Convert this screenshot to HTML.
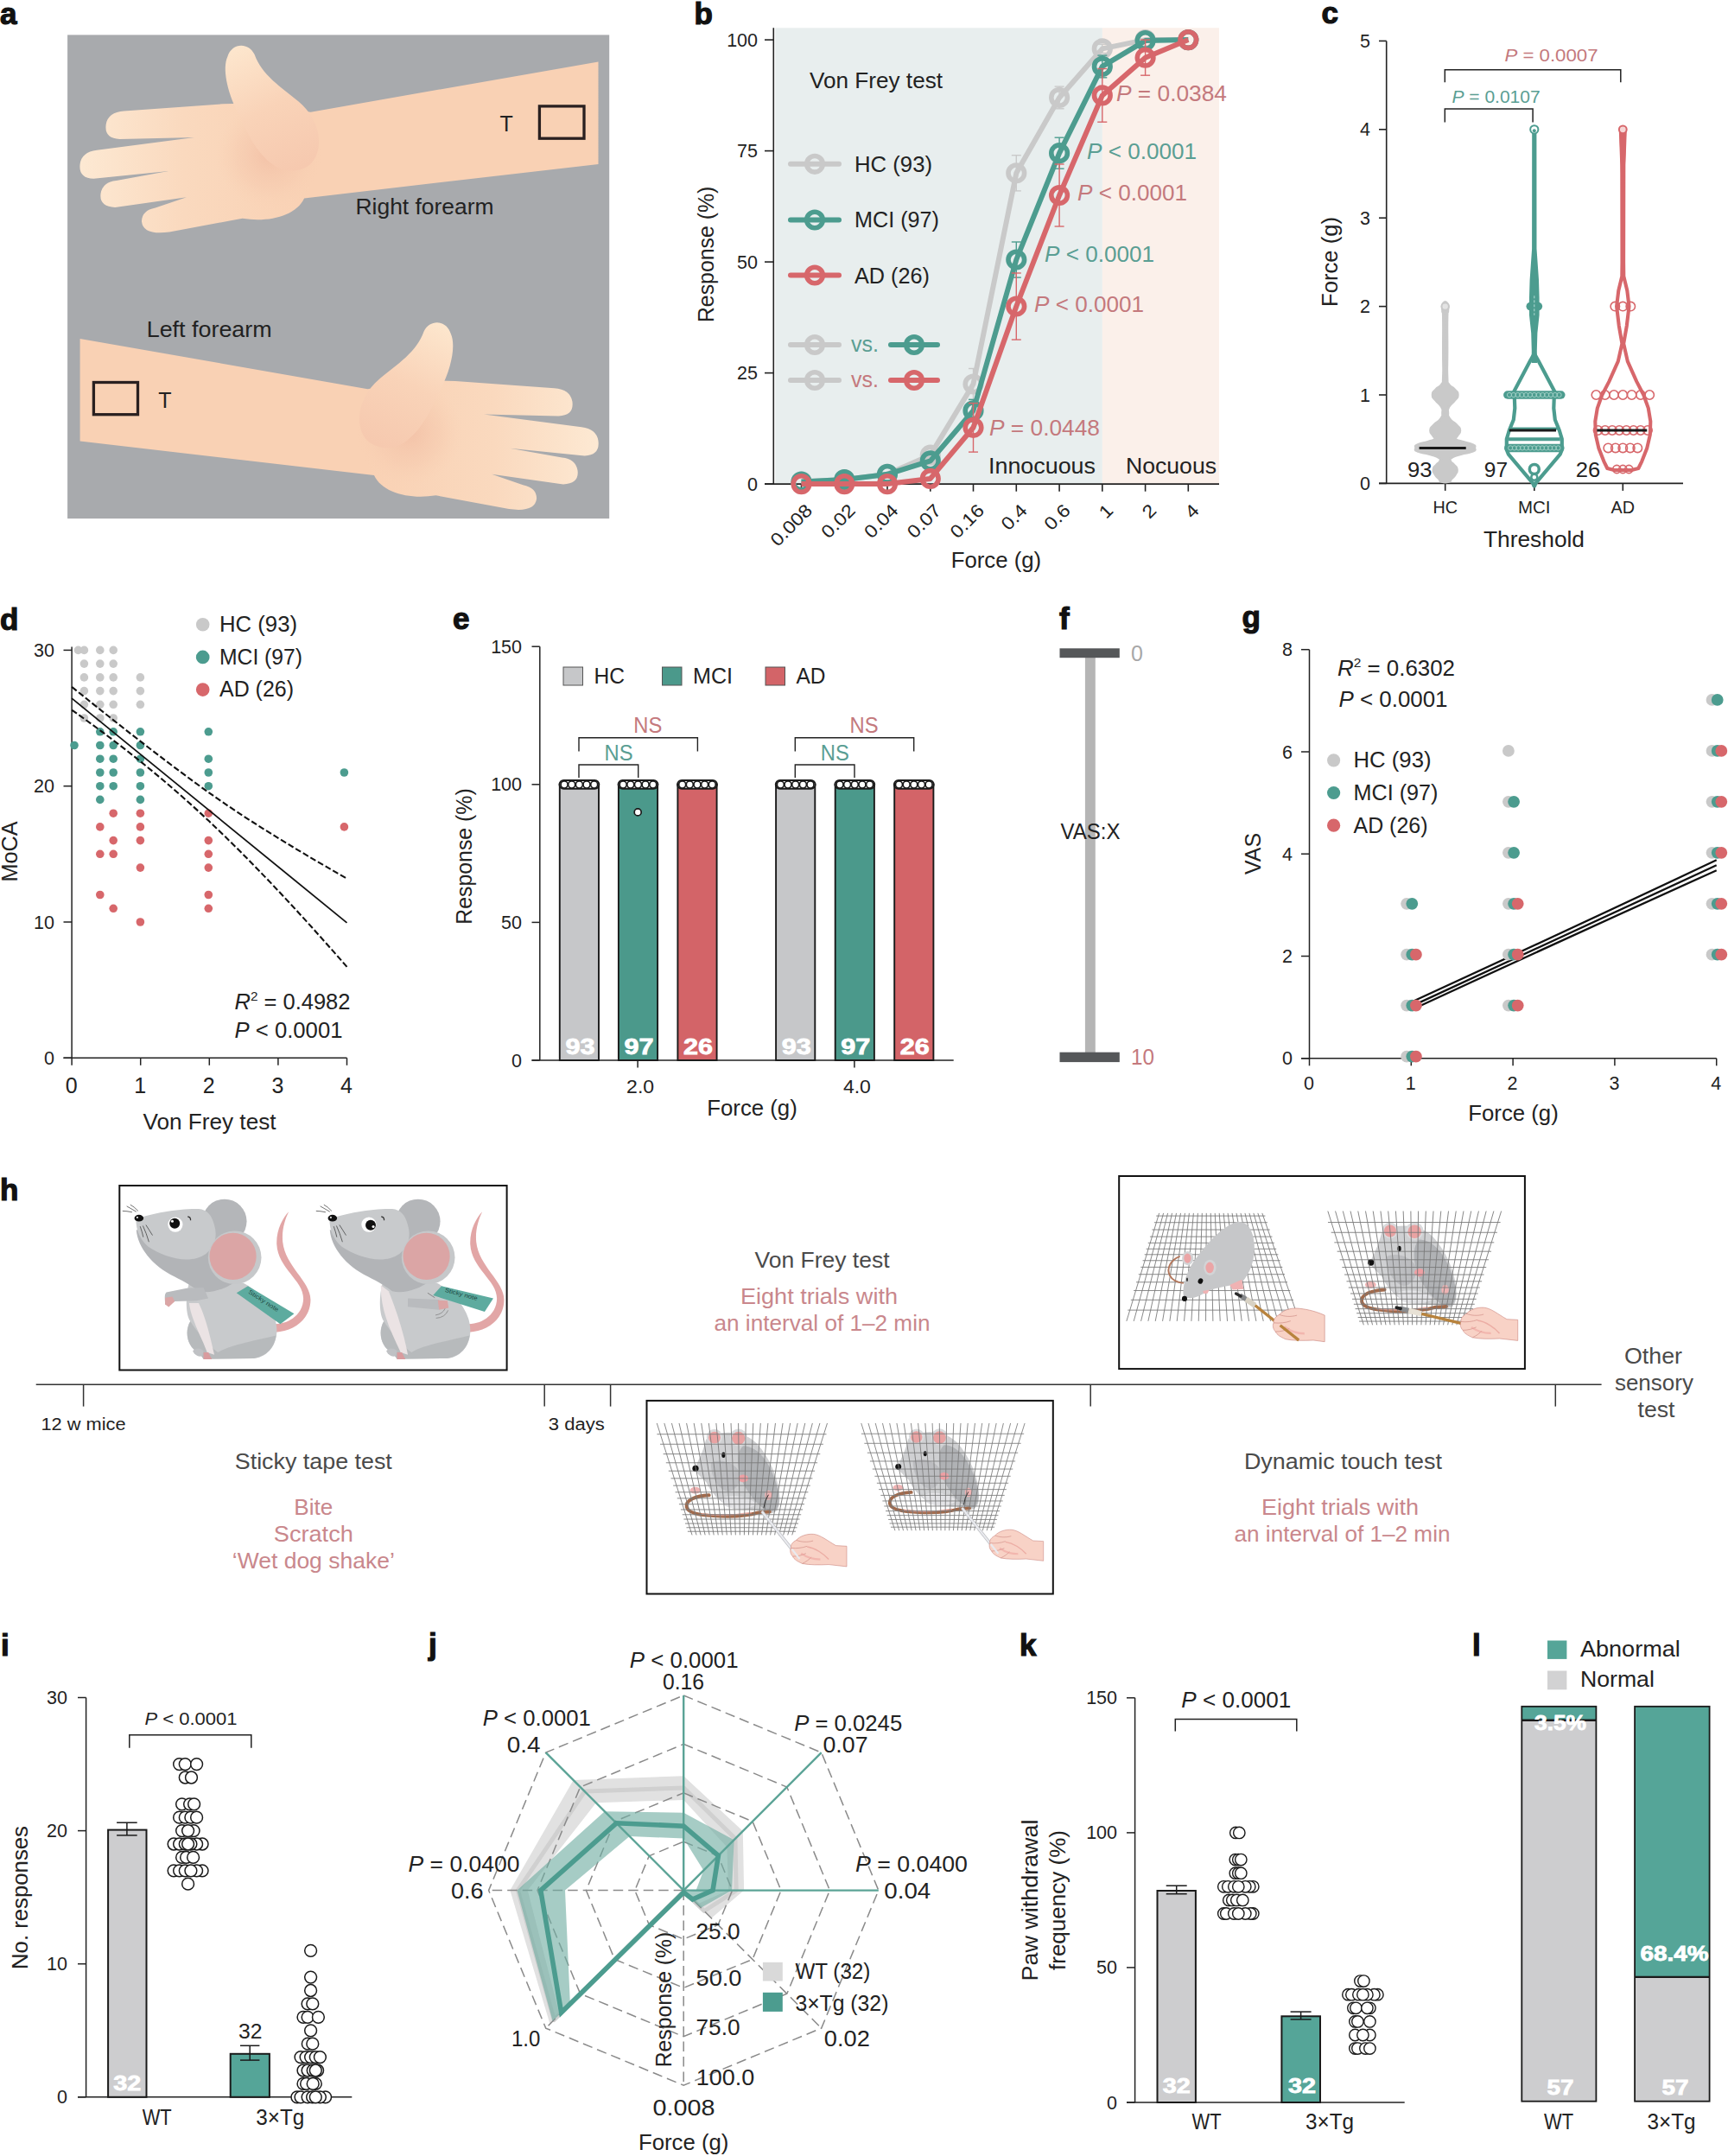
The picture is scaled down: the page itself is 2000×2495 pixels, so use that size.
<!DOCTYPE html><html><head><meta charset="utf-8"><title>Figure</title>
<style>html,body{margin:0;padding:0;background:#fff}svg{display:block}text{font-family:"Liberation Sans",sans-serif}</style></head><body>
<svg width="2000" height="2495" viewBox="0 0 2000 2495">
<rect width="2000" height="2495" fill="#fff"/>
<!-- panel_a -->
<text x="0.0" y="27.8" font-size="35" fill="#111" font-weight="bold" stroke="#111" stroke-width="1.2">a</text>
<defs><linearGradient id="skA" gradientUnits="userSpaceOnUse" x1="92" y1="0" x2="360" y2="0"><stop offset="0" stop-color="#fde9d3"/><stop offset="0.45" stop-color="#fad9be"/><stop offset="1" stop-color="#f9d1b4"/></linearGradient><radialGradient id="skSh" gradientUnits="userSpaceOnUse" cx="312" cy="180" r="62"><stop offset="0" stop-color="#f2bfa5" stop-opacity="0.85"/><stop offset="0.6" stop-color="#f5c8ad" stop-opacity="0.45"/><stop offset="1" stop-color="#f9d1b4" stop-opacity="0"/></radialGradient><linearGradient id="skT" gradientUnits="userSpaceOnUse" x1="275" y1="55" x2="345" y2="195"><stop offset="0" stop-color="#fde6cd"/><stop offset="0.5" stop-color="#f9d3b8"/><stop offset="1" stop-color="#f6c9af"/></linearGradient><clipPath id="armclip"><path d="M692.5,71.4 L692.5,189.9 L352.1,229.4 C342.7,250.0 310.7,257.6 280.6,252.7 L196.0,268.5 Q165.9,272.6 164.0,256.4 Q164.0,243.7 179.8,240.6 L215.9,228.2 L133.2,239.9 Q114.4,239.1 116.6,223.7 Q118.9,210.6 134.7,209.0 L194.9,198.1 L108.4,206.8 Q90.7,206.0 92.6,189.9 Q94.4,175.9 112.1,173.7 L225.0,159.0 L138.5,160.9 Q120.4,160.1 122.7,144.0 Q124.9,130.1 143.7,128.6 L258.1,120.3 L291.9,119.5 L359.6,129.7 Z"/></clipPath></defs>
<rect x="78.1" y="40.4" width="627.1" height="559.7" fill="#a8aaad"/>
<g><path d="M692.5,71.4 L692.5,189.9 L352.1,229.4 C342.7,250.0 310.7,257.6 280.6,252.7 L196.0,268.5 Q165.9,272.6 164.0,256.4 Q164.0,243.7 179.8,240.6 L215.9,228.2 L133.2,239.9 Q114.4,239.1 116.6,223.7 Q118.9,210.6 134.7,209.0 L194.9,198.1 L108.4,206.8 Q90.7,206.0 92.6,189.9 Q94.4,175.9 112.1,173.7 L225.0,159.0 L138.5,160.9 Q120.4,160.1 122.7,144.0 Q124.9,130.1 143.7,128.6 L258.1,120.3 L291.9,119.5 L359.6,129.7 Z" fill="url(#skA)"/><circle cx="312" cy="180" r="62" fill="url(#skSh)" clip-path="url(#armclip)"/><path d="M275.0,129.7 C262.6,105.2 257.3,78.9 263.3,65.7 C267.9,49.6 287.4,48.1 294.6,63.1 C302.5,86.4 325.8,101.5 345.3,117.3 C371.7,139.1 375.4,172.9 360.4,188.7 C349.1,200.0 329.5,200.0 317.5,191.7 C295.7,176.7 285.2,151.1 275.0,129.7 Z" fill="url(#skT)"/></g>
<g transform="translate(785.1,320.6) scale(-1,1)"><path d="M692.5,71.4 L692.5,189.9 L352.1,229.4 C342.7,250.0 310.7,257.6 280.6,252.7 L196.0,268.5 Q165.9,272.6 164.0,256.4 Q164.0,243.7 179.8,240.6 L215.9,228.2 L133.2,239.9 Q114.4,239.1 116.6,223.7 Q118.9,210.6 134.7,209.0 L194.9,198.1 L108.4,206.8 Q90.7,206.0 92.6,189.9 Q94.4,175.9 112.1,173.7 L225.0,159.0 L138.5,160.9 Q120.4,160.1 122.7,144.0 Q124.9,130.1 143.7,128.6 L258.1,120.3 L291.9,119.5 L359.6,129.7 Z" fill="url(#skA)"/><circle cx="312" cy="180" r="62" fill="url(#skSh)" clip-path="url(#armclip)"/><path d="M275.0,129.7 C262.6,105.2 257.3,78.9 263.3,65.7 C267.9,49.6 287.4,48.1 294.6,63.1 C302.5,86.4 325.8,101.5 345.3,117.3 C371.7,139.1 375.4,172.9 360.4,188.7 C349.1,200.0 329.5,200.0 317.5,191.7 C295.7,176.7 285.2,151.1 275.0,129.7 Z" fill="url(#skT)"/></g>
<rect x="624.4" y="122.9" width="51.6" height="37.3" fill="none" stroke="#2a2020" stroke-width="3.3"/>
<rect x="108.4" y="442.5" width="51.1" height="37.2" fill="none" stroke="#2a2020" stroke-width="3.3"/>
<text x="586.2" y="152.2" font-size="25" text-anchor="middle" fill="#222222">T</text>
<text x="191.0" y="471.8" font-size="25" text-anchor="middle" fill="#222222">T</text>
<text x="411.5" y="248.2" font-size="25" fill="#222222" textLength="160.0" lengthAdjust="spacingAndGlyphs">Right forearm</text>
<text x="169.7" y="390.2" font-size="25" fill="#222222" textLength="145.0" lengthAdjust="spacingAndGlyphs">Left forearm</text>
<!-- panel_b -->
<text x="803.5" y="27.5" font-size="35" fill="#111" font-weight="bold" stroke="#111" stroke-width="1.2">b</text>
<rect x="897.3" y="32.3" width="378.5" height="527.8" fill="#e8eeee"/>
<rect x="1275.8" y="32.3" width="135.2" height="527.8" fill="#fbf0ea"/>
<line x1="895.3" y1="32.3" x2="895.3" y2="560.1" stroke="#222" stroke-width="1.6"/>
<line x1="885.0" y1="560.1" x2="1411.0" y2="560.1" stroke="#222" stroke-width="1.6"/>
<line x1="885.0" y1="560.1" x2="895.3" y2="560.1" stroke="#222" stroke-width="1.6"/>
<text x="877.0" y="567.6" font-size="21.5" text-anchor="end" fill="#222222">0</text>
<line x1="885.0" y1="431.6" x2="895.3" y2="431.6" stroke="#222" stroke-width="1.6"/>
<text x="877.0" y="439.1" font-size="21.5" text-anchor="end" fill="#222222">25</text>
<line x1="885.0" y1="303.1" x2="895.3" y2="303.1" stroke="#222" stroke-width="1.6"/>
<text x="877.0" y="310.6" font-size="21.5" text-anchor="end" fill="#222222">50</text>
<line x1="885.0" y1="174.6" x2="895.3" y2="174.6" stroke="#222" stroke-width="1.6"/>
<text x="877.0" y="182.1" font-size="21.5" text-anchor="end" fill="#222222">75</text>
<line x1="885.0" y1="46.1" x2="895.3" y2="46.1" stroke="#222" stroke-width="1.6"/>
<text x="877.0" y="53.6" font-size="21.5" text-anchor="end" fill="#222222">100</text>
<line x1="927.5" y1="560.1" x2="927.5" y2="568.7" stroke="#222" stroke-width="1.6"/>
<text x="941.5" y="592.1" font-size="21" text-anchor="end" fill="#222222" transform="rotate(-45 941.5 592.1)" textLength="58.5" lengthAdjust="spacingAndGlyphs">0.008</text>
<line x1="977.3" y1="560.1" x2="977.3" y2="568.7" stroke="#222" stroke-width="1.6"/>
<text x="991.3" y="592.1" font-size="21" text-anchor="end" fill="#222222" transform="rotate(-45 991.3 592.1)" textLength="45.5" lengthAdjust="spacingAndGlyphs">0.02</text>
<line x1="1027.0" y1="560.1" x2="1027.0" y2="568.7" stroke="#222" stroke-width="1.6"/>
<text x="1041.0" y="592.1" font-size="21" text-anchor="end" fill="#222222" transform="rotate(-45 1041.0 592.1)" textLength="45.5" lengthAdjust="spacingAndGlyphs">0.04</text>
<line x1="1076.8" y1="560.1" x2="1076.8" y2="568.7" stroke="#222" stroke-width="1.6"/>
<text x="1090.8" y="592.1" font-size="21" text-anchor="end" fill="#222222" transform="rotate(-45 1090.8 592.1)" textLength="45.5" lengthAdjust="spacingAndGlyphs">0.07</text>
<line x1="1126.5" y1="560.1" x2="1126.5" y2="568.7" stroke="#222" stroke-width="1.6"/>
<text x="1140.5" y="592.1" font-size="21" text-anchor="end" fill="#222222" transform="rotate(-45 1140.5 592.1)" textLength="45.5" lengthAdjust="spacingAndGlyphs">0.16</text>
<line x1="1176.3" y1="560.1" x2="1176.3" y2="568.7" stroke="#222" stroke-width="1.6"/>
<text x="1190.3" y="592.1" font-size="21" text-anchor="end" fill="#222222" transform="rotate(-45 1190.3 592.1)" textLength="32.5" lengthAdjust="spacingAndGlyphs">0.4</text>
<line x1="1226.1" y1="560.1" x2="1226.1" y2="568.7" stroke="#222" stroke-width="1.6"/>
<text x="1240.1" y="592.1" font-size="21" text-anchor="end" fill="#222222" transform="rotate(-45 1240.1 592.1)" textLength="32.5" lengthAdjust="spacingAndGlyphs">0.6</text>
<line x1="1275.8" y1="560.1" x2="1275.8" y2="568.7" stroke="#222" stroke-width="1.6"/>
<text x="1289.8" y="592.1" font-size="21" text-anchor="end" fill="#222222" transform="rotate(-45 1289.8 592.1)" textLength="13.0" lengthAdjust="spacingAndGlyphs">1</text>
<line x1="1325.6" y1="560.1" x2="1325.6" y2="568.7" stroke="#222" stroke-width="1.6"/>
<text x="1339.6" y="592.1" font-size="21" text-anchor="end" fill="#222222" transform="rotate(-45 1339.6 592.1)" textLength="13.0" lengthAdjust="spacingAndGlyphs">2</text>
<line x1="1375.3" y1="560.1" x2="1375.3" y2="568.7" stroke="#222" stroke-width="1.6"/>
<text x="1389.3" y="592.1" font-size="21" text-anchor="end" fill="#222222" transform="rotate(-45 1389.3 592.1)" textLength="13.0" lengthAdjust="spacingAndGlyphs">4</text>
<text x="1152.9" y="657.0" font-size="25" text-anchor="middle" fill="#222222" textLength="104.5" lengthAdjust="spacingAndGlyphs">Force (g)</text>
<text x="826.0" y="294.4" font-size="25" text-anchor="middle" fill="#222222" transform="rotate(-90 826.0 294.4)" textLength="157.4" lengthAdjust="spacingAndGlyphs">Response (%)</text>
<line x1="1126.5" y1="426.5" x2="1126.5" y2="462.4" stroke="#c9c9c9" stroke-width="1.4"/>
<line x1="1121.0" y1="426.5" x2="1132.0" y2="426.5" stroke="#c9c9c9" stroke-width="1.4"/>
<line x1="1121.0" y1="462.4" x2="1132.0" y2="462.4" stroke="#c9c9c9" stroke-width="1.4"/>
<line x1="1176.3" y1="179.7" x2="1176.3" y2="220.9" stroke="#c9c9c9" stroke-width="1.4"/>
<line x1="1170.8" y1="179.7" x2="1181.8" y2="179.7" stroke="#c9c9c9" stroke-width="1.4"/>
<line x1="1170.8" y1="220.9" x2="1181.8" y2="220.9" stroke="#c9c9c9" stroke-width="1.4"/>
<line x1="1226.1" y1="100.1" x2="1226.1" y2="125.8" stroke="#c9c9c9" stroke-width="1.4"/>
<line x1="1220.6" y1="100.1" x2="1231.6" y2="100.1" stroke="#c9c9c9" stroke-width="1.4"/>
<line x1="1220.6" y1="125.8" x2="1231.6" y2="125.8" stroke="#c9c9c9" stroke-width="1.4"/>
<line x1="1275.8" y1="51.2" x2="1275.8" y2="61.5" stroke="#c9c9c9" stroke-width="1.4"/>
<line x1="1270.3" y1="51.2" x2="1281.3" y2="51.2" stroke="#c9c9c9" stroke-width="1.4"/>
<line x1="1270.3" y1="61.5" x2="1281.3" y2="61.5" stroke="#c9c9c9" stroke-width="1.4"/>
<polyline points="927.5,557.5 977.3,555.0 1027.0,548.8 1076.8,526.7 1126.5,444.5 1176.3,200.3 1226.1,112.9 1275.8,56.4 1325.6,46.1 1375.3,46.1" fill="none" stroke="#c9c9c9" stroke-width="6" stroke-linejoin="round"/>
<circle cx="927.5" cy="557.5" r="9.3" fill="none" stroke="#c9c9c9" stroke-width="5.6"/>
<circle cx="977.3" cy="555.0" r="9.3" fill="none" stroke="#c9c9c9" stroke-width="5.6"/>
<circle cx="1027.0" cy="548.8" r="9.3" fill="none" stroke="#c9c9c9" stroke-width="5.6"/>
<circle cx="1076.8" cy="526.7" r="9.3" fill="none" stroke="#c9c9c9" stroke-width="5.6"/>
<circle cx="1126.5" cy="444.5" r="9.3" fill="none" stroke="#c9c9c9" stroke-width="5.6"/>
<circle cx="1176.3" cy="200.3" r="9.3" fill="none" stroke="#c9c9c9" stroke-width="5.6"/>
<circle cx="1226.1" cy="112.9" r="9.3" fill="none" stroke="#c9c9c9" stroke-width="5.6"/>
<circle cx="1275.8" cy="56.4" r="9.3" fill="none" stroke="#c9c9c9" stroke-width="5.6"/>
<circle cx="1325.6" cy="46.1" r="9.3" fill="none" stroke="#c9c9c9" stroke-width="5.6"/>
<circle cx="1375.3" cy="46.1" r="9.3" fill="none" stroke="#c9c9c9" stroke-width="5.6"/>
<line x1="1126.5" y1="462.4" x2="1126.5" y2="488.1" stroke="#4c9c8f" stroke-width="1.4"/>
<line x1="1121.0" y1="462.4" x2="1132.0" y2="462.4" stroke="#4c9c8f" stroke-width="1.4"/>
<line x1="1121.0" y1="488.1" x2="1132.0" y2="488.1" stroke="#4c9c8f" stroke-width="1.4"/>
<line x1="1176.3" y1="280.0" x2="1176.3" y2="321.1" stroke="#4c9c8f" stroke-width="1.4"/>
<line x1="1170.8" y1="280.0" x2="1181.8" y2="280.0" stroke="#4c9c8f" stroke-width="1.4"/>
<line x1="1170.8" y1="321.1" x2="1181.8" y2="321.1" stroke="#4c9c8f" stroke-width="1.4"/>
<line x1="1226.1" y1="159.2" x2="1226.1" y2="195.2" stroke="#4c9c8f" stroke-width="1.4"/>
<line x1="1220.6" y1="159.2" x2="1231.6" y2="159.2" stroke="#4c9c8f" stroke-width="1.4"/>
<line x1="1220.6" y1="195.2" x2="1231.6" y2="195.2" stroke="#4c9c8f" stroke-width="1.4"/>
<line x1="1275.8" y1="64.1" x2="1275.8" y2="89.8" stroke="#4c9c8f" stroke-width="1.4"/>
<line x1="1270.3" y1="64.1" x2="1281.3" y2="64.1" stroke="#4c9c8f" stroke-width="1.4"/>
<line x1="1270.3" y1="89.8" x2="1281.3" y2="89.8" stroke="#4c9c8f" stroke-width="1.4"/>
<polyline points="927.5,557.5 977.3,555.0 1027.0,548.8 1076.8,533.4 1126.5,475.3 1176.3,300.5 1226.1,177.2 1275.8,76.9 1325.6,47.1 1375.3,46.1" fill="none" stroke="#4c9c8f" stroke-width="6" stroke-linejoin="round"/>
<circle cx="927.5" cy="557.5" r="9.3" fill="none" stroke="#4c9c8f" stroke-width="5.6"/>
<circle cx="977.3" cy="555.0" r="9.3" fill="none" stroke="#4c9c8f" stroke-width="5.6"/>
<circle cx="1027.0" cy="548.8" r="9.3" fill="none" stroke="#4c9c8f" stroke-width="5.6"/>
<circle cx="1076.8" cy="533.4" r="9.3" fill="none" stroke="#4c9c8f" stroke-width="5.6"/>
<circle cx="1126.5" cy="475.3" r="9.3" fill="none" stroke="#4c9c8f" stroke-width="5.6"/>
<circle cx="1176.3" cy="300.5" r="9.3" fill="none" stroke="#4c9c8f" stroke-width="5.6"/>
<circle cx="1226.1" cy="177.2" r="9.3" fill="none" stroke="#4c9c8f" stroke-width="5.6"/>
<circle cx="1275.8" cy="76.9" r="9.3" fill="none" stroke="#4c9c8f" stroke-width="5.6"/>
<circle cx="1325.6" cy="47.1" r="9.3" fill="none" stroke="#4c9c8f" stroke-width="5.6"/>
<circle cx="1375.3" cy="46.1" r="9.3" fill="none" stroke="#4c9c8f" stroke-width="5.6"/>
<line x1="1126.5" y1="466.6" x2="1126.5" y2="523.1" stroke="#d7676b" stroke-width="1.4"/>
<line x1="1121.0" y1="466.6" x2="1132.0" y2="466.6" stroke="#d7676b" stroke-width="1.4"/>
<line x1="1121.0" y1="523.1" x2="1132.0" y2="523.1" stroke="#d7676b" stroke-width="1.4"/>
<line x1="1176.3" y1="316.0" x2="1176.3" y2="393.1" stroke="#d7676b" stroke-width="1.4"/>
<line x1="1170.8" y1="316.0" x2="1181.8" y2="316.0" stroke="#d7676b" stroke-width="1.4"/>
<line x1="1170.8" y1="393.1" x2="1181.8" y2="393.1" stroke="#d7676b" stroke-width="1.4"/>
<line x1="1226.1" y1="190.0" x2="1226.1" y2="262.0" stroke="#d7676b" stroke-width="1.4"/>
<line x1="1220.6" y1="190.0" x2="1231.6" y2="190.0" stroke="#d7676b" stroke-width="1.4"/>
<line x1="1220.6" y1="262.0" x2="1231.6" y2="262.0" stroke="#d7676b" stroke-width="1.4"/>
<line x1="1275.8" y1="79.5" x2="1275.8" y2="141.2" stroke="#d7676b" stroke-width="1.4"/>
<line x1="1270.3" y1="79.5" x2="1281.3" y2="79.5" stroke="#d7676b" stroke-width="1.4"/>
<line x1="1270.3" y1="141.2" x2="1281.3" y2="141.2" stroke="#d7676b" stroke-width="1.4"/>
<line x1="1325.6" y1="46.1" x2="1325.6" y2="87.2" stroke="#d7676b" stroke-width="1.4"/>
<line x1="1320.1" y1="46.1" x2="1331.1" y2="46.1" stroke="#d7676b" stroke-width="1.4"/>
<line x1="1320.1" y1="87.2" x2="1331.1" y2="87.2" stroke="#d7676b" stroke-width="1.4"/>
<polyline points="927.5,560.1 977.3,560.1 1027.0,560.1 1076.8,553.9 1126.5,494.8 1176.3,354.5 1226.1,226.0 1275.8,110.4 1325.6,66.7 1375.3,46.1" fill="none" stroke="#d7676b" stroke-width="6" stroke-linejoin="round"/>
<circle cx="927.5" cy="560.1" r="9.3" fill="none" stroke="#d7676b" stroke-width="5.6"/>
<circle cx="977.3" cy="560.1" r="9.3" fill="none" stroke="#d7676b" stroke-width="5.6"/>
<circle cx="1027.0" cy="560.1" r="9.3" fill="none" stroke="#d7676b" stroke-width="5.6"/>
<circle cx="1076.8" cy="553.9" r="9.3" fill="none" stroke="#d7676b" stroke-width="5.6"/>
<circle cx="1126.5" cy="494.8" r="9.3" fill="none" stroke="#d7676b" stroke-width="5.6"/>
<circle cx="1176.3" cy="354.5" r="9.3" fill="none" stroke="#d7676b" stroke-width="5.6"/>
<circle cx="1226.1" cy="226.0" r="9.3" fill="none" stroke="#d7676b" stroke-width="5.6"/>
<circle cx="1275.8" cy="110.4" r="9.3" fill="none" stroke="#d7676b" stroke-width="5.6"/>
<circle cx="1325.6" cy="66.7" r="9.3" fill="none" stroke="#d7676b" stroke-width="5.6"/>
<circle cx="1375.3" cy="46.1" r="9.3" fill="none" stroke="#d7676b" stroke-width="5.6"/>
<line x1="915.0" y1="189.8" x2="971.0" y2="189.8" stroke="#c9c9c9" stroke-width="6" stroke-linecap="round"/>
<circle cx="943.0" cy="189.8" r="9.3" fill="none" stroke="#c9c9c9" stroke-width="5.6"/>
<text x="989.0" y="198.5" font-size="25" fill="#222222" textLength="90.0" lengthAdjust="spacingAndGlyphs">HC (93)</text>
<line x1="915.0" y1="254.5" x2="971.0" y2="254.5" stroke="#4c9c8f" stroke-width="6" stroke-linecap="round"/>
<circle cx="943.0" cy="254.5" r="9.3" fill="none" stroke="#4c9c8f" stroke-width="5.6"/>
<text x="989.0" y="263.0" font-size="25" fill="#222222" textLength="98.0" lengthAdjust="spacingAndGlyphs">MCI (97)</text>
<line x1="915.0" y1="318.5" x2="971.0" y2="318.5" stroke="#d7676b" stroke-width="6" stroke-linecap="round"/>
<circle cx="943.0" cy="318.5" r="9.3" fill="none" stroke="#d7676b" stroke-width="5.6"/>
<text x="989.0" y="327.5" font-size="25" fill="#222222" textLength="87.0" lengthAdjust="spacingAndGlyphs">AD (26)</text>
<text x="937.0" y="101.6" font-size="25" fill="#222222" textLength="154.0" lengthAdjust="spacingAndGlyphs">Von Frey test</text>
<line x1="915.0" y1="399.0" x2="971.0" y2="399.0" stroke="#c9c9c9" stroke-width="6" stroke-linecap="round"/>
<circle cx="943.0" cy="399.0" r="9.3" fill="none" stroke="#c9c9c9" stroke-width="5.6"/>
<text x="985.0" y="407.0" font-size="25" fill="#5a9e93">vs.</text>
<line x1="1031.0" y1="399.0" x2="1085.0" y2="399.0" stroke="#4c9c8f" stroke-width="6" stroke-linecap="round"/>
<circle cx="1058.0" cy="399.0" r="9.3" fill="none" stroke="#4c9c8f" stroke-width="5.6"/>
<line x1="915.0" y1="440.0" x2="971.0" y2="440.0" stroke="#c9c9c9" stroke-width="6" stroke-linecap="round"/>
<circle cx="943.0" cy="440.0" r="9.3" fill="none" stroke="#c9c9c9" stroke-width="5.6"/>
<text x="985.0" y="448.0" font-size="25" fill="#c4797d">vs.</text>
<line x1="1031.0" y1="440.0" x2="1085.0" y2="440.0" stroke="#d7676b" stroke-width="6" stroke-linecap="round"/>
<circle cx="1058.0" cy="440.0" r="9.3" fill="none" stroke="#d7676b" stroke-width="5.6"/>
<text x="1292.0" y="117.0" font-size="25" fill="#c4797d" textLength="128.0" lengthAdjust="spacingAndGlyphs"><tspan font-style="italic">P</tspan> = 0.0384</text>
<text x="1258.0" y="184.0" font-size="25" fill="#5a9e93" textLength="127.0" lengthAdjust="spacingAndGlyphs"><tspan font-style="italic">P</tspan> &lt; 0.0001</text>
<text x="1247.0" y="232.0" font-size="25" fill="#c4797d" textLength="127.0" lengthAdjust="spacingAndGlyphs"><tspan font-style="italic">P</tspan> &lt; 0.0001</text>
<text x="1209.0" y="303.0" font-size="25" fill="#5a9e93" textLength="127.0" lengthAdjust="spacingAndGlyphs"><tspan font-style="italic">P</tspan> &lt; 0.0001</text>
<text x="1197.0" y="361.0" font-size="25" fill="#c4797d" textLength="127.0" lengthAdjust="spacingAndGlyphs"><tspan font-style="italic">P</tspan> &lt; 0.0001</text>
<text x="1145.0" y="504.0" font-size="25" fill="#c4797d" textLength="128.0" lengthAdjust="spacingAndGlyphs"><tspan font-style="italic">P</tspan> = 0.0448</text>
<text x="1144.0" y="548.0" font-size="25" fill="#222222" textLength="124.0" lengthAdjust="spacingAndGlyphs">Innocuous</text>
<text x="1303.0" y="548.0" font-size="25" fill="#222222" textLength="105.0" lengthAdjust="spacingAndGlyphs">Nocuous</text>
<!-- panel_c -->
<text x="1529.5" y="27.0" font-size="35" fill="#111" font-weight="bold" stroke="#111" stroke-width="1.2">c</text>
<line x1="1604.7" y1="47.4" x2="1604.7" y2="559.4" stroke="#222" stroke-width="1.6"/>
<line x1="1596.0" y1="559.4" x2="1948.0" y2="559.4" stroke="#222" stroke-width="1.6"/>
<line x1="1596.0" y1="559.4" x2="1604.7" y2="559.4" stroke="#222" stroke-width="1.6"/>
<text x="1586.0" y="566.9" font-size="21.5" text-anchor="end" fill="#222222">0</text>
<line x1="1596.0" y1="457.0" x2="1604.7" y2="457.0" stroke="#222" stroke-width="1.6"/>
<text x="1586.0" y="464.5" font-size="21.5" text-anchor="end" fill="#222222">1</text>
<line x1="1596.0" y1="354.6" x2="1604.7" y2="354.6" stroke="#222" stroke-width="1.6"/>
<text x="1586.0" y="362.1" font-size="21.5" text-anchor="end" fill="#222222">2</text>
<line x1="1596.0" y1="252.2" x2="1604.7" y2="252.2" stroke="#222" stroke-width="1.6"/>
<text x="1586.0" y="259.7" font-size="21.5" text-anchor="end" fill="#222222">3</text>
<line x1="1596.0" y1="149.8" x2="1604.7" y2="149.8" stroke="#222" stroke-width="1.6"/>
<text x="1586.0" y="157.3" font-size="21.5" text-anchor="end" fill="#222222">4</text>
<line x1="1596.0" y1="47.4" x2="1604.7" y2="47.4" stroke="#222" stroke-width="1.6"/>
<text x="1586.0" y="54.9" font-size="21.5" text-anchor="end" fill="#222222">5</text>
<text x="1548.0" y="303.0" font-size="25" text-anchor="middle" fill="#222222" transform="rotate(-90 1548.0 303.0)" textLength="104.0" lengthAdjust="spacingAndGlyphs">Force (g)</text>
<line x1="1672.7" y1="559.4" x2="1672.7" y2="567.9" stroke="#222" stroke-width="1.6"/>
<text x="1672.7" y="593.8" font-size="20" text-anchor="middle" fill="#222222" textLength="28.5" lengthAdjust="spacingAndGlyphs">HC</text>
<line x1="1775.8" y1="559.4" x2="1775.8" y2="567.9" stroke="#222" stroke-width="1.6"/>
<text x="1775.8" y="593.8" font-size="20" text-anchor="middle" fill="#222222" textLength="37.5" lengthAdjust="spacingAndGlyphs">MCI</text>
<line x1="1878.3" y1="559.4" x2="1878.3" y2="567.9" stroke="#222" stroke-width="1.6"/>
<text x="1878.3" y="593.8" font-size="20" text-anchor="middle" fill="#222222" textLength="27.5" lengthAdjust="spacingAndGlyphs">AD</text>
<text x="1775.5" y="632.5" font-size="25" text-anchor="middle" fill="#222222" textLength="117.0" lengthAdjust="spacingAndGlyphs">Threshold</text>
<polyline points="1672.3,95.3 1672.3,80.8 1875.8,80.8 1875.8,95.3" fill="none" stroke="#222" stroke-width="1.5"/>
<polyline points="1672.3,141.6 1672.3,126.0 1774.1,126.0 1774.1,141.6" fill="none" stroke="#222" stroke-width="1.5"/>
<text x="1741.4" y="71.3" font-size="20" fill="#c4797d" textLength="108.2" lengthAdjust="spacingAndGlyphs"><tspan font-style="italic">P</tspan> = 0.0007</text>
<text x="1680.4" y="118.9" font-size="20" fill="#5a9e93" textLength="102.3" lengthAdjust="spacingAndGlyphs"><tspan font-style="italic">P</tspan> = 0.0107</text>
<path d="M1670.2,351.5 C1668.4,354.3 1669.6,354.6 1669.7,359.7 C1669.8,364.8 1670.2,351.5 1670.5,366.9 C1670.8,382.2 1670.5,382.6 1670.5,405.8 C1670.5,429.0 1671.1,423.5 1670.5,436.5 C1669.9,449.5 1671.6,439.9 1668.7,444.7 C1665.8,449.5 1665.2,446.8 1661.7,450.9 C1658.2,455.0 1658.2,452.9 1658.2,457.0 C1658.2,461.1 1658.4,458.7 1661.7,463.1 C1665.0,467.6 1665.5,465.5 1668.2,470.3 C1670.9,475.1 1669.9,472.7 1669.7,477.5 C1669.5,482.3 1671.0,479.9 1667.7,484.6 C1664.4,489.4 1663.7,487.4 1659.7,491.8 C1655.7,496.3 1656.0,493.9 1655.7,498.0 C1655.4,502.1 1657.0,500.7 1658.7,504.1 C1660.4,507.5 1662.7,505.8 1660.7,508.2 C1658.7,510.6 1659.0,509.2 1652.7,511.3 C1646.4,513.3 1646.4,512.0 1641.7,514.3 C1637.0,516.7 1638.7,515.7 1638.7,518.4 C1638.7,521.2 1636.4,520.1 1641.7,522.5 C1647.0,524.9 1646.7,523.2 1654.7,525.6 C1662.7,528.0 1661.7,527.0 1665.7,529.7 C1669.7,532.4 1667.7,531.1 1666.7,533.8 C1665.7,536.5 1665.2,534.8 1662.7,537.9 C1660.2,541.0 1659.7,539.3 1659.2,543.0 C1658.7,546.8 1659.0,545.4 1661.2,549.2 C1663.4,552.9 1663.2,551.5 1665.7,554.3 C1668.2,557.0 1665.0,556.3 1668.7,557.4 C1672.4,558.4 1673.0,558.4 1676.7,557.4 C1680.4,556.3 1677.2,557.0 1679.7,554.3 C1682.2,551.5 1682.0,552.9 1684.2,549.2 C1686.4,545.4 1686.7,546.8 1686.2,543.0 C1685.7,539.3 1685.2,541.0 1682.7,537.9 C1680.2,534.8 1679.7,536.5 1678.7,533.8 C1677.7,531.1 1675.7,532.4 1679.7,529.7 C1683.7,527.0 1682.7,528.0 1690.7,525.6 C1698.7,523.2 1698.4,524.9 1703.7,522.5 C1709.0,520.1 1706.7,521.2 1706.7,518.4 C1706.7,515.7 1708.4,516.7 1703.7,514.3 C1699.0,512.0 1699.0,513.3 1692.7,511.3 C1686.4,509.2 1686.7,510.6 1684.7,508.2 C1682.7,505.8 1685.0,507.5 1686.7,504.1 C1688.4,500.7 1690.0,502.1 1689.7,498.0 C1689.4,493.9 1689.7,496.3 1685.7,491.8 C1681.7,487.4 1681.0,489.4 1677.7,484.6 C1674.4,479.9 1675.9,482.3 1675.7,477.5 C1675.5,472.7 1674.5,475.1 1677.2,470.3 C1679.9,465.5 1680.4,467.6 1683.7,463.1 C1687.0,458.7 1687.2,461.1 1687.2,457.0 C1687.2,452.9 1687.2,455.0 1683.7,450.9 C1680.2,446.8 1679.6,449.5 1676.7,444.7 C1673.8,439.9 1675.5,449.5 1674.9,436.5 C1674.3,423.5 1674.9,429.0 1674.9,405.8 C1674.9,382.6 1674.6,382.2 1674.9,366.9 C1675.2,351.5 1675.6,364.8 1675.7,359.7 C1675.8,354.6 1677.0,354.3 1675.2,351.5 C1673.4,348.8 1672.0,348.8 1670.2,351.5 Z" fill="#c9c9c9" stroke="#c9c9c9" stroke-width="3" stroke-linejoin="round"/>
<circle cx="1672.7" cy="354.6" r="4.2" fill="#e4e4e4" stroke="#c9c9c9" stroke-width="2"/>
<line x1="1642.6" y1="518.4" x2="1696.7" y2="518.4" stroke="#1a1a1a" stroke-width="3"/>
<polygon points="1775.3,409.9 1770.8,418.1 1751.8,453.9 1752.8,459.0 1753.3,472.4 1751.8,485.7 1746.8,498.0 1743.8,508.2 1743.8,520.5 1745.8,525.6 1774.3,559.4 1775.5,562.5 1776.1,562.5 1777.3,559.4 1805.8,525.6 1807.8,520.5 1807.8,508.2 1804.8,498.0 1799.8,485.7 1798.3,472.4 1798.8,459.0 1799.8,453.9 1780.8,418.1 1776.3,409.9" fill="#fff" stroke="#4c9c8f" stroke-width="4.2" stroke-linejoin="round"/>
<polygon points="1773.2,149.8 1773.1,288.0 1770.6,323.9 1770.0,344.4 1770.0,364.8 1772.2,385.3 1772.8,405.8 1772.6,420.1 1779.0,420.1 1778.8,405.8 1779.4,385.3 1781.6,364.8 1781.6,344.4 1781.0,323.9 1778.5,288.0 1778.4,149.8" fill="#4c9c8f"/>
<circle cx="1775.8" cy="149.8" r="4.6" fill="#fff" stroke="#4c9c8f" stroke-width="2"/>
<circle cx="1775.8" cy="151.3" r="2" fill="#4c9c8f"/>
<line x1="1744.8" y1="457.0" x2="1806.8" y2="457.0" stroke="#4c9c8f" stroke-width="9.5" stroke-linecap="round"/>
<circle cx="1747.0" cy="457.0" r="2.6" fill="none" stroke="#9fcfc5" stroke-width="1"/>
<circle cx="1751.8" cy="457.0" r="2.6" fill="none" stroke="#9fcfc5" stroke-width="1"/>
<circle cx="1756.6" cy="457.0" r="2.6" fill="none" stroke="#9fcfc5" stroke-width="1"/>
<circle cx="1761.4" cy="457.0" r="2.6" fill="none" stroke="#9fcfc5" stroke-width="1"/>
<circle cx="1766.2" cy="457.0" r="2.6" fill="none" stroke="#9fcfc5" stroke-width="1"/>
<circle cx="1771.0" cy="457.0" r="2.6" fill="none" stroke="#9fcfc5" stroke-width="1"/>
<circle cx="1775.8" cy="457.0" r="2.6" fill="none" stroke="#9fcfc5" stroke-width="1"/>
<circle cx="1780.6" cy="457.0" r="2.6" fill="none" stroke="#9fcfc5" stroke-width="1"/>
<circle cx="1785.4" cy="457.0" r="2.6" fill="none" stroke="#9fcfc5" stroke-width="1"/>
<circle cx="1790.2" cy="457.0" r="2.6" fill="none" stroke="#9fcfc5" stroke-width="1"/>
<circle cx="1795.0" cy="457.0" r="2.6" fill="none" stroke="#9fcfc5" stroke-width="1"/>
<circle cx="1799.8" cy="457.0" r="2.6" fill="none" stroke="#9fcfc5" stroke-width="1"/>
<circle cx="1804.6" cy="457.0" r="2.6" fill="none" stroke="#9fcfc5" stroke-width="1"/>
<line x1="1745.8" y1="518.4" x2="1805.8" y2="518.4" stroke="#4c9c8f" stroke-width="9.5" stroke-linecap="round"/>
<circle cx="1748.2" cy="518.4" r="2.6" fill="none" stroke="#9fcfc5" stroke-width="1"/>
<circle cx="1752.8" cy="518.4" r="2.6" fill="none" stroke="#9fcfc5" stroke-width="1"/>
<circle cx="1757.4" cy="518.4" r="2.6" fill="none" stroke="#9fcfc5" stroke-width="1"/>
<circle cx="1762.0" cy="518.4" r="2.6" fill="none" stroke="#9fcfc5" stroke-width="1"/>
<circle cx="1766.6" cy="518.4" r="2.6" fill="none" stroke="#9fcfc5" stroke-width="1"/>
<circle cx="1771.2" cy="518.4" r="2.6" fill="none" stroke="#9fcfc5" stroke-width="1"/>
<circle cx="1775.8" cy="518.4" r="2.6" fill="none" stroke="#9fcfc5" stroke-width="1"/>
<circle cx="1780.4" cy="518.4" r="2.6" fill="none" stroke="#9fcfc5" stroke-width="1"/>
<circle cx="1785.0" cy="518.4" r="2.6" fill="none" stroke="#9fcfc5" stroke-width="1"/>
<circle cx="1789.6" cy="518.4" r="2.6" fill="none" stroke="#9fcfc5" stroke-width="1"/>
<circle cx="1794.2" cy="518.4" r="2.6" fill="none" stroke="#9fcfc5" stroke-width="1"/>
<circle cx="1798.8" cy="518.4" r="2.6" fill="none" stroke="#9fcfc5" stroke-width="1"/>
<circle cx="1803.4" cy="518.4" r="2.6" fill="none" stroke="#9fcfc5" stroke-width="1"/>
<line x1="1745.8" y1="508.2" x2="1805.8" y2="508.2" stroke="#4c9c8f" stroke-width="4"/>
<line x1="1746.8" y1="495.9" x2="1804.8" y2="495.9" stroke="#4c9c8f" stroke-width="3"/>
<line x1="1746.9" y1="498.0" x2="1801.0" y2="498.0" stroke="#1a1a1a" stroke-width="3"/>
<line x1="1771.2" y1="354.6" x2="1780.4" y2="354.6" stroke="#4c9c8f" stroke-width="9.5" stroke-linecap="round"/>
<line x1="1775.8" y1="342.3" x2="1775.8" y2="364.8" stroke="#bfe3dc" stroke-width="0.9" stroke-dasharray="3 2"/>
<circle cx="1775.8" cy="543.0" r="5.5" fill="#fff" stroke="#4c9c8f" stroke-width="3.5"/>
<circle cx="1775.8" cy="552.2" r="3.5" fill="#fff" stroke="#4c9c8f" stroke-width="2.5"/>
<polygon points="1875.8,149.8 1877.3,190.8 1877.5,303.4 1877.3,319.8 1873.3,336.2 1871.1,354.6 1873.8,377.1 1877.4,397.6 1872.8,418.1 1862.3,441.6 1854.3,457.0 1848.8,472.4 1846.3,487.7 1846.8,503.1 1850.3,518.4 1856.3,533.8 1860.3,542.0 1868.3,544.0 1888.3,544.0 1896.3,542.0 1900.3,533.8 1906.3,518.4 1909.8,503.1 1910.3,487.7 1907.8,472.4 1902.3,457.0 1894.3,441.6 1883.8,418.1 1879.2,397.6 1882.8,377.1 1885.5,354.6 1883.3,336.2 1879.3,319.8 1879.1,303.4 1879.3,190.8 1880.8,149.8" fill="none" stroke="#d7676b" stroke-width="4.1" stroke-linejoin="round"/>
<path d="M1874.3,149.8 L1882.3,149.8 L1879.9,221.5 L1876.7,221.5 Z" fill="#d7676b"/>
<circle cx="1878.3" cy="149.8" r="4.4" fill="#f6d6d6" stroke="#d7676b" stroke-width="2"/>
<circle cx="1847.4" cy="457.0" r="5.2" fill="none" stroke="#d7676b" stroke-width="1.6"/>
<circle cx="1857.7" cy="457.0" r="5.2" fill="none" stroke="#d7676b" stroke-width="1.6"/>
<circle cx="1868.0" cy="457.0" r="5.2" fill="none" stroke="#d7676b" stroke-width="1.6"/>
<circle cx="1878.3" cy="457.0" r="5.2" fill="none" stroke="#d7676b" stroke-width="1.6"/>
<circle cx="1888.6" cy="457.0" r="5.2" fill="none" stroke="#d7676b" stroke-width="1.6"/>
<circle cx="1898.9" cy="457.0" r="5.2" fill="none" stroke="#d7676b" stroke-width="1.6"/>
<circle cx="1909.2" cy="457.0" r="5.2" fill="none" stroke="#d7676b" stroke-width="1.6"/>
<circle cx="1849.6" cy="498.0" r="5.2" fill="none" stroke="#d7676b" stroke-width="1.6"/>
<circle cx="1857.8" cy="498.0" r="5.2" fill="none" stroke="#d7676b" stroke-width="1.6"/>
<circle cx="1866.0" cy="498.0" r="5.2" fill="none" stroke="#d7676b" stroke-width="1.6"/>
<circle cx="1874.2" cy="498.0" r="5.2" fill="none" stroke="#d7676b" stroke-width="1.6"/>
<circle cx="1882.4" cy="498.0" r="5.2" fill="none" stroke="#d7676b" stroke-width="1.6"/>
<circle cx="1890.6" cy="498.0" r="5.2" fill="none" stroke="#d7676b" stroke-width="1.6"/>
<circle cx="1898.8" cy="498.0" r="5.2" fill="none" stroke="#d7676b" stroke-width="1.6"/>
<circle cx="1907.0" cy="498.0" r="5.2" fill="none" stroke="#d7676b" stroke-width="1.6"/>
<circle cx="1861.3" cy="518.4" r="5.2" fill="none" stroke="#d7676b" stroke-width="1.6"/>
<circle cx="1869.8" cy="518.4" r="5.2" fill="none" stroke="#d7676b" stroke-width="1.6"/>
<circle cx="1878.3" cy="518.4" r="5.2" fill="none" stroke="#d7676b" stroke-width="1.6"/>
<circle cx="1886.8" cy="518.4" r="5.2" fill="none" stroke="#d7676b" stroke-width="1.6"/>
<circle cx="1895.3" cy="518.4" r="5.2" fill="none" stroke="#d7676b" stroke-width="1.6"/>
<circle cx="1871.3" cy="543.0" r="4.6" fill="none" stroke="#d7676b" stroke-width="1.6"/>
<circle cx="1878.3" cy="543.0" r="4.6" fill="none" stroke="#d7676b" stroke-width="1.6"/>
<circle cx="1885.3" cy="543.0" r="4.6" fill="none" stroke="#d7676b" stroke-width="1.6"/>
<circle cx="1869.3" cy="354.6" r="5.2" fill="none" stroke="#d7676b" stroke-width="1.6"/>
<circle cx="1878.3" cy="354.6" r="5.2" fill="none" stroke="#d7676b" stroke-width="1.6"/>
<circle cx="1887.3" cy="354.6" r="5.2" fill="none" stroke="#d7676b" stroke-width="1.6"/>
<line x1="1848.3" y1="498.0" x2="1906.3" y2="498.0" stroke="#1a1a1a" stroke-width="3"/>
<text x="1628.9" y="551.9" font-size="23.5" fill="#222222" textLength="28.5" lengthAdjust="spacingAndGlyphs">93</text>
<text x="1717.8" y="551.9" font-size="23.5" fill="#222222" textLength="27.2" lengthAdjust="spacingAndGlyphs">97</text>
<text x="1823.7" y="551.9" font-size="23.5" fill="#222222" textLength="28.5" lengthAdjust="spacingAndGlyphs">26</text>
<!-- panel_d -->
<text x="0.0" y="729.0" font-size="35" fill="#111" font-weight="bold" stroke="#111" stroke-width="1.2">d</text>
<line x1="83.1" y1="748.4" x2="83.1" y2="1224.3" stroke="#222" stroke-width="1.5"/>
<line x1="73.5" y1="1224.3" x2="401.5" y2="1224.3" stroke="#222" stroke-width="1.5"/>
<line x1="73.5" y1="1224.3" x2="83.1" y2="1224.3" stroke="#222" stroke-width="1.5"/>
<text x="63.0" y="1231.8" font-size="21.5" text-anchor="end" fill="#222222">0</text>
<line x1="73.5" y1="1067.0" x2="83.1" y2="1067.0" stroke="#222" stroke-width="1.5"/>
<text x="63.0" y="1074.5" font-size="21.5" text-anchor="end" fill="#222222">10</text>
<line x1="73.5" y1="909.7" x2="83.1" y2="909.7" stroke="#222" stroke-width="1.5"/>
<text x="63.0" y="917.2" font-size="21.5" text-anchor="end" fill="#222222">20</text>
<line x1="73.5" y1="752.4" x2="83.1" y2="752.4" stroke="#222" stroke-width="1.5"/>
<text x="63.0" y="759.9" font-size="21.5" text-anchor="end" fill="#222222">30</text>
<line x1="83.1" y1="1224.3" x2="83.1" y2="1232.8" stroke="#222" stroke-width="1.5"/>
<text x="82.6" y="1265.0" font-size="25" text-anchor="middle" fill="#222222">0</text>
<line x1="162.7" y1="1224.3" x2="162.7" y2="1232.8" stroke="#222" stroke-width="1.5"/>
<text x="162.2" y="1265.0" font-size="25" text-anchor="middle" fill="#222222">1</text>
<line x1="242.3" y1="1224.3" x2="242.3" y2="1232.8" stroke="#222" stroke-width="1.5"/>
<text x="241.8" y="1265.0" font-size="25" text-anchor="middle" fill="#222222">2</text>
<line x1="321.9" y1="1224.3" x2="321.9" y2="1232.8" stroke="#222" stroke-width="1.5"/>
<text x="321.4" y="1265.0" font-size="25" text-anchor="middle" fill="#222222">3</text>
<line x1="401.5" y1="1224.3" x2="401.5" y2="1232.8" stroke="#222" stroke-width="1.5"/>
<text x="401.0" y="1265.0" font-size="25" text-anchor="middle" fill="#222222">4</text>
<text x="242.5" y="1306.5" font-size="25" text-anchor="middle" fill="#222222" textLength="154.0" lengthAdjust="spacingAndGlyphs">Von Frey test</text>
<text x="20.0" y="985.5" font-size="25" text-anchor="middle" fill="#222222" transform="rotate(-90 20.0 985.5)" textLength="70.0" lengthAdjust="spacingAndGlyphs">MoCA</text>
<circle cx="90.5" cy="752.4" r="4.8" fill="#c9c9c9"/>
<circle cx="97.4" cy="752.4" r="4.8" fill="#c9c9c9"/>
<circle cx="97.4" cy="768.1" r="4.8" fill="#c9c9c9"/>
<circle cx="97.4" cy="783.9" r="4.8" fill="#c9c9c9"/>
<circle cx="97.4" cy="799.6" r="4.8" fill="#c9c9c9"/>
<circle cx="97.4" cy="815.3" r="4.8" fill="#c9c9c9"/>
<circle cx="97.4" cy="831.0" r="4.8" fill="#c9c9c9"/>
<circle cx="115.8" cy="752.4" r="4.8" fill="#c9c9c9"/>
<circle cx="115.8" cy="768.1" r="4.8" fill="#c9c9c9"/>
<circle cx="115.8" cy="783.9" r="4.8" fill="#c9c9c9"/>
<circle cx="115.8" cy="799.6" r="4.8" fill="#c9c9c9"/>
<circle cx="115.8" cy="815.3" r="4.8" fill="#c9c9c9"/>
<circle cx="115.8" cy="831.0" r="4.8" fill="#c9c9c9"/>
<circle cx="131.2" cy="752.4" r="4.8" fill="#c9c9c9"/>
<circle cx="131.2" cy="768.1" r="4.8" fill="#c9c9c9"/>
<circle cx="131.2" cy="783.9" r="4.8" fill="#c9c9c9"/>
<circle cx="131.2" cy="799.6" r="4.8" fill="#c9c9c9"/>
<circle cx="131.2" cy="815.3" r="4.8" fill="#c9c9c9"/>
<circle cx="131.2" cy="831.0" r="4.8" fill="#c9c9c9"/>
<circle cx="162.4" cy="783.9" r="4.8" fill="#c9c9c9"/>
<circle cx="162.4" cy="799.6" r="4.8" fill="#c9c9c9"/>
<circle cx="162.4" cy="815.3" r="4.8" fill="#c9c9c9"/>
<circle cx="115.8" cy="846.8" r="4.8" fill="#4c9c8f"/>
<circle cx="115.8" cy="862.5" r="4.8" fill="#4c9c8f"/>
<circle cx="115.8" cy="878.2" r="4.8" fill="#4c9c8f"/>
<circle cx="115.8" cy="894.0" r="4.8" fill="#4c9c8f"/>
<circle cx="115.8" cy="909.7" r="4.8" fill="#4c9c8f"/>
<circle cx="115.8" cy="925.4" r="4.8" fill="#4c9c8f"/>
<circle cx="131.2" cy="846.8" r="4.8" fill="#4c9c8f"/>
<circle cx="131.2" cy="862.5" r="4.8" fill="#4c9c8f"/>
<circle cx="131.2" cy="878.2" r="4.8" fill="#4c9c8f"/>
<circle cx="131.2" cy="894.0" r="4.8" fill="#4c9c8f"/>
<circle cx="131.2" cy="909.7" r="4.8" fill="#4c9c8f"/>
<circle cx="162.4" cy="846.8" r="4.8" fill="#4c9c8f"/>
<circle cx="162.4" cy="862.5" r="4.8" fill="#4c9c8f"/>
<circle cx="162.4" cy="878.2" r="4.8" fill="#4c9c8f"/>
<circle cx="162.4" cy="894.0" r="4.8" fill="#4c9c8f"/>
<circle cx="162.4" cy="909.7" r="4.8" fill="#4c9c8f"/>
<circle cx="162.4" cy="925.4" r="4.8" fill="#4c9c8f"/>
<circle cx="241.3" cy="846.8" r="4.8" fill="#4c9c8f"/>
<circle cx="241.3" cy="878.2" r="4.8" fill="#4c9c8f"/>
<circle cx="241.3" cy="894.0" r="4.8" fill="#4c9c8f"/>
<circle cx="241.3" cy="909.7" r="4.8" fill="#4c9c8f"/>
<circle cx="398.4" cy="894.0" r="4.8" fill="#4c9c8f"/>
<circle cx="115.8" cy="956.9" r="4.8" fill="#d7676b"/>
<circle cx="115.8" cy="988.3" r="4.8" fill="#d7676b"/>
<circle cx="115.8" cy="1035.5" r="4.8" fill="#d7676b"/>
<circle cx="131.2" cy="941.2" r="4.8" fill="#d7676b"/>
<circle cx="131.2" cy="972.6" r="4.8" fill="#d7676b"/>
<circle cx="131.2" cy="988.3" r="4.8" fill="#d7676b"/>
<circle cx="131.2" cy="1051.3" r="4.8" fill="#d7676b"/>
<circle cx="162.4" cy="941.2" r="4.8" fill="#d7676b"/>
<circle cx="162.4" cy="956.9" r="4.8" fill="#d7676b"/>
<circle cx="162.4" cy="972.6" r="4.8" fill="#d7676b"/>
<circle cx="162.4" cy="1004.1" r="4.8" fill="#d7676b"/>
<circle cx="162.4" cy="1067.0" r="4.8" fill="#d7676b"/>
<circle cx="241.3" cy="941.2" r="4.8" fill="#d7676b"/>
<circle cx="241.3" cy="972.6" r="4.8" fill="#d7676b"/>
<circle cx="241.3" cy="988.3" r="4.8" fill="#d7676b"/>
<circle cx="241.3" cy="1004.1" r="4.8" fill="#d7676b"/>
<circle cx="241.3" cy="1035.5" r="4.8" fill="#d7676b"/>
<circle cx="241.3" cy="1051.3" r="4.8" fill="#d7676b"/>
<circle cx="398.4" cy="956.9" r="4.8" fill="#d7676b"/>
<circle cx="86.0" cy="862.5" r="4.8" fill="#4c9c8f"/>
<line x1="83.1" y1="808.1" x2="401.5" y2="1067.9" stroke="#111" stroke-width="1.8"/>
<path d="M83.1,794.9 Q182.6,875.1 242.3,917.6 T401.5,1016.7" fill="none" stroke="#111" stroke-width="2.1" stroke-dasharray="7 3"/>
<path d="M83.1,821.6 Q170.7,883.0 242.3,950.6 T401.5,1118.9" fill="none" stroke="#111" stroke-width="2.1" stroke-dasharray="7 3"/>
<circle cx="234.7" cy="722.7" r="7.8" fill="#c9c9c9"/>
<text x="254.0" y="731.0" font-size="25" fill="#222222" textLength="90.0" lengthAdjust="spacingAndGlyphs">HC (93)</text>
<circle cx="234.7" cy="760.4" r="7.8" fill="#4c9c8f"/>
<text x="254.0" y="768.7" font-size="25" fill="#222222" textLength="96.0" lengthAdjust="spacingAndGlyphs">MCI (97)</text>
<circle cx="234.7" cy="798.1" r="7.8" fill="#d7676b"/>
<text x="254.0" y="806.4" font-size="25" fill="#222222" textLength="86.0" lengthAdjust="spacingAndGlyphs">AD (26)</text>
<text x="271.5" y="1167.5" font-size="25" fill="#222222" textLength="134" lengthAdjust="spacingAndGlyphs"><tspan font-style="italic">R</tspan><tspan font-size="15" dy="-10">2</tspan><tspan dy="10"> = 0.4982</tspan></text>
<text x="271.5" y="1201.0" font-size="25" fill="#222222" textLength="125.0" lengthAdjust="spacingAndGlyphs"><tspan font-style="italic">P</tspan> &lt; 0.0001</text>
<!-- panel_e -->
<text x="524.0" y="727.8" font-size="35" fill="#111" font-weight="bold" stroke="#111" stroke-width="1.2">e</text>
<line x1="624.8" y1="748.2" x2="624.8" y2="1227.0" stroke="#222" stroke-width="1.5"/>
<line x1="615.5" y1="1227.0" x2="1103.7" y2="1227.0" stroke="#222" stroke-width="1.5"/>
<line x1="615.5" y1="1227.0" x2="624.8" y2="1227.0" stroke="#222" stroke-width="1.5"/>
<text x="604.0" y="1234.5" font-size="21.5" text-anchor="end" fill="#222222">0</text>
<line x1="615.5" y1="1067.4" x2="624.8" y2="1067.4" stroke="#222" stroke-width="1.5"/>
<text x="604.0" y="1074.9" font-size="21.5" text-anchor="end" fill="#222222">50</text>
<line x1="615.5" y1="907.8" x2="624.8" y2="907.8" stroke="#222" stroke-width="1.5"/>
<text x="604.0" y="915.3" font-size="21.5" text-anchor="end" fill="#222222">100</text>
<line x1="615.5" y1="748.2" x2="624.8" y2="748.2" stroke="#222" stroke-width="1.5"/>
<text x="604.0" y="755.7" font-size="21.5" text-anchor="end" fill="#222222">150</text>
<line x1="738.1" y1="1227.0" x2="738.1" y2="1235.5" stroke="#222" stroke-width="1.5"/>
<text x="741.1" y="1265.0" font-size="21.5" text-anchor="middle" fill="#222222" textLength="32.0" lengthAdjust="spacingAndGlyphs">2.0</text>
<line x1="988.9" y1="1227.0" x2="988.9" y2="1235.5" stroke="#222" stroke-width="1.5"/>
<text x="991.9" y="1265.0" font-size="21.5" text-anchor="middle" fill="#222222" textLength="32.0" lengthAdjust="spacingAndGlyphs">4.0</text>
<text x="870.5" y="1291.0" font-size="25" text-anchor="middle" fill="#222222" textLength="104.5" lengthAdjust="spacingAndGlyphs">Force (g)</text>
<text x="546.0" y="991.0" font-size="25" text-anchor="middle" fill="#222222" transform="rotate(-90 546.0 991.0)" textLength="157.4" lengthAdjust="spacingAndGlyphs">Response (%)</text>
<rect x="647.8" y="907.8" width="45.2" height="319.2" fill="#c6c7c9" stroke="#1a1a1a" stroke-width="1.9"/>
<rect x="647.5" y="902.9" width="45.8" height="9.8" fill="#fff" stroke="#1a1a1a" stroke-width="2" rx="4.9"/>
<circle cx="653.1" cy="908.0" r="4.0" fill="#fff" stroke="#1a1a1a" stroke-width="1.7"/>
<circle cx="661.7" cy="908.0" r="4.0" fill="#fff" stroke="#1a1a1a" stroke-width="1.7"/>
<circle cx="679.0" cy="908.0" r="4.0" fill="#fff" stroke="#1a1a1a" stroke-width="1.7"/>
<circle cx="687.7" cy="908.0" r="4.0" fill="#fff" stroke="#1a1a1a" stroke-width="1.7"/>
<circle cx="670.4" cy="908.0" r="4.0" fill="#fff" stroke="#1a1a1a" stroke-width="1.7"/>
<text x="671.4" y="1220.0" font-size="25" text-anchor="middle" fill="#fff" font-weight="bold" textLength="34.0" lengthAdjust="spacingAndGlyphs" stroke="#fff" stroke-width="0.8">93</text>
<rect x="715.9" y="907.8" width="45.2" height="319.2" fill="#4b998b" stroke="#1a1a1a" stroke-width="1.9"/>
<rect x="715.6" y="902.9" width="45.8" height="9.8" fill="#fff" stroke="#1a1a1a" stroke-width="2" rx="4.9"/>
<circle cx="721.2" cy="908.0" r="4.0" fill="#fff" stroke="#1a1a1a" stroke-width="1.7"/>
<circle cx="729.8" cy="908.0" r="4.0" fill="#fff" stroke="#1a1a1a" stroke-width="1.7"/>
<circle cx="747.1" cy="908.0" r="4.0" fill="#fff" stroke="#1a1a1a" stroke-width="1.7"/>
<circle cx="755.8" cy="908.0" r="4.0" fill="#fff" stroke="#1a1a1a" stroke-width="1.7"/>
<circle cx="738.5" cy="908.0" r="4.0" fill="#fff" stroke="#1a1a1a" stroke-width="1.7"/>
<text x="739.5" y="1220.0" font-size="25" text-anchor="middle" fill="#fff" font-weight="bold" textLength="34.0" lengthAdjust="spacingAndGlyphs" stroke="#fff" stroke-width="0.8">97</text>
<rect x="784.4" y="907.8" width="45.2" height="319.2" fill="#d36468" stroke="#1a1a1a" stroke-width="1.9"/>
<rect x="784.1" y="902.9" width="45.8" height="9.8" fill="#fff" stroke="#1a1a1a" stroke-width="2" rx="4.9"/>
<circle cx="789.7" cy="908.0" r="4.0" fill="#fff" stroke="#1a1a1a" stroke-width="1.7"/>
<circle cx="798.3" cy="908.0" r="4.0" fill="#fff" stroke="#1a1a1a" stroke-width="1.7"/>
<circle cx="815.6" cy="908.0" r="4.0" fill="#fff" stroke="#1a1a1a" stroke-width="1.7"/>
<circle cx="824.3" cy="908.0" r="4.0" fill="#fff" stroke="#1a1a1a" stroke-width="1.7"/>
<circle cx="807.0" cy="908.0" r="4.0" fill="#fff" stroke="#1a1a1a" stroke-width="1.7"/>
<text x="808.0" y="1220.0" font-size="25" text-anchor="middle" fill="#fff" font-weight="bold" textLength="34.0" lengthAdjust="spacingAndGlyphs" stroke="#fff" stroke-width="0.8">26</text>
<rect x="898.1" y="907.8" width="45.2" height="319.2" fill="#c6c7c9" stroke="#1a1a1a" stroke-width="1.9"/>
<rect x="897.8" y="902.9" width="45.8" height="9.8" fill="#fff" stroke="#1a1a1a" stroke-width="2" rx="4.9"/>
<circle cx="903.4" cy="908.0" r="4.0" fill="#fff" stroke="#1a1a1a" stroke-width="1.7"/>
<circle cx="912.0" cy="908.0" r="4.0" fill="#fff" stroke="#1a1a1a" stroke-width="1.7"/>
<circle cx="929.4" cy="908.0" r="4.0" fill="#fff" stroke="#1a1a1a" stroke-width="1.7"/>
<circle cx="938.0" cy="908.0" r="4.0" fill="#fff" stroke="#1a1a1a" stroke-width="1.7"/>
<circle cx="920.7" cy="908.0" r="4.0" fill="#fff" stroke="#1a1a1a" stroke-width="1.7"/>
<text x="921.7" y="1220.0" font-size="25" text-anchor="middle" fill="#fff" font-weight="bold" textLength="34.0" lengthAdjust="spacingAndGlyphs" stroke="#fff" stroke-width="0.8">93</text>
<rect x="966.7" y="907.8" width="45.2" height="319.2" fill="#4b998b" stroke="#1a1a1a" stroke-width="1.9"/>
<rect x="966.4" y="902.9" width="45.8" height="9.8" fill="#fff" stroke="#1a1a1a" stroke-width="2" rx="4.9"/>
<circle cx="972.0" cy="908.0" r="4.0" fill="#fff" stroke="#1a1a1a" stroke-width="1.7"/>
<circle cx="980.6" cy="908.0" r="4.0" fill="#fff" stroke="#1a1a1a" stroke-width="1.7"/>
<circle cx="998.0" cy="908.0" r="4.0" fill="#fff" stroke="#1a1a1a" stroke-width="1.7"/>
<circle cx="1006.6" cy="908.0" r="4.0" fill="#fff" stroke="#1a1a1a" stroke-width="1.7"/>
<circle cx="989.3" cy="908.0" r="4.0" fill="#fff" stroke="#1a1a1a" stroke-width="1.7"/>
<text x="990.3" y="1220.0" font-size="25" text-anchor="middle" fill="#fff" font-weight="bold" textLength="34.0" lengthAdjust="spacingAndGlyphs" stroke="#fff" stroke-width="0.8">97</text>
<rect x="1035.2" y="907.8" width="45.2" height="319.2" fill="#d36468" stroke="#1a1a1a" stroke-width="1.9"/>
<rect x="1034.9" y="902.9" width="45.8" height="9.8" fill="#fff" stroke="#1a1a1a" stroke-width="2" rx="4.9"/>
<circle cx="1040.5" cy="908.0" r="4.0" fill="#fff" stroke="#1a1a1a" stroke-width="1.7"/>
<circle cx="1049.2" cy="908.0" r="4.0" fill="#fff" stroke="#1a1a1a" stroke-width="1.7"/>
<circle cx="1066.5" cy="908.0" r="4.0" fill="#fff" stroke="#1a1a1a" stroke-width="1.7"/>
<circle cx="1075.1" cy="908.0" r="4.0" fill="#fff" stroke="#1a1a1a" stroke-width="1.7"/>
<circle cx="1057.8" cy="908.0" r="4.0" fill="#fff" stroke="#1a1a1a" stroke-width="1.7"/>
<text x="1058.8" y="1220.0" font-size="25" text-anchor="middle" fill="#fff" font-weight="bold" textLength="34.0" lengthAdjust="spacingAndGlyphs" stroke="#fff" stroke-width="0.8">26</text>
<circle cx="738.2" cy="939.9" r="4.0" fill="#fff" stroke="#1a1a1a" stroke-width="1.7"/>
<polyline points="670.0,869.6 670.0,853.7 807.4,853.7 807.4,869.6" fill="none" stroke="#222" stroke-width="1.4"/>
<polyline points="670.0,900.0 670.0,885.0 738.7,885.0 738.7,900.0" fill="none" stroke="#222" stroke-width="1.4"/>
<text x="749.8" y="848.0" font-size="25" text-anchor="middle" fill="#c4797d" textLength="33.0" lengthAdjust="spacingAndGlyphs">NS</text>
<text x="716.0" y="880.0" font-size="25" text-anchor="middle" fill="#5a9e93" textLength="33.0" lengthAdjust="spacingAndGlyphs">NS</text>
<polyline points="920.3,869.6 920.3,853.7 1057.7,853.7 1057.7,869.6" fill="none" stroke="#222" stroke-width="1.4"/>
<polyline points="920.3,900.0 920.3,885.0 989.0,885.0 989.0,900.0" fill="none" stroke="#222" stroke-width="1.4"/>
<text x="1000.1" y="848.0" font-size="25" text-anchor="middle" fill="#c4797d" textLength="33.0" lengthAdjust="spacingAndGlyphs">NS</text>
<text x="966.3" y="880.0" font-size="25" text-anchor="middle" fill="#5a9e93" textLength="33.0" lengthAdjust="spacingAndGlyphs">NS</text>
<rect x="652.0" y="772.0" width="22.5" height="21.0" fill="#c6c7c9" stroke="#555" stroke-width="1"/>
<text x="687.5" y="791.0" font-size="25" fill="#222222" textLength="35.5" lengthAdjust="spacingAndGlyphs">HC</text>
<rect x="766.5" y="772.0" width="22.5" height="21.0" fill="#4b998b" stroke="#555" stroke-width="1"/>
<text x="802.0" y="791.0" font-size="25" fill="#222222" textLength="46.0" lengthAdjust="spacingAndGlyphs">MCI</text>
<rect x="886.0" y="772.0" width="22.5" height="21.0" fill="#d36468" stroke="#555" stroke-width="1"/>
<text x="921.5" y="791.0" font-size="25" fill="#222222" textLength="34.0" lengthAdjust="spacingAndGlyphs">AD</text>
<!-- panel_f -->
<text x="1226.0" y="728.0" font-size="35" fill="#111" font-weight="bold" stroke="#111" stroke-width="1.2">f</text>
<rect x="1255.9" y="755.0" width="11.9" height="468.0" fill="#b5b5b5"/>
<rect x="1226.5" y="750.3" width="69.3" height="10.9" fill="#555759"/>
<rect x="1226.5" y="1217.7" width="69.3" height="11.4" fill="#555759"/>
<text x="1309.0" y="765.0" font-size="25" fill="#a8a8a8">0</text>
<text x="1309.0" y="1232.4" font-size="25" fill="#c4797d" textLength="27.0" lengthAdjust="spacingAndGlyphs">10</text>
<text x="1227.5" y="971.0" font-size="25" fill="#222222" textLength="69.0" lengthAdjust="spacingAndGlyphs">VAS:X</text>
<!-- panel_g -->
<text x="1437.5" y="725.8" font-size="35" fill="#111" font-weight="bold" stroke="#111" stroke-width="1.2">g</text>
<line x1="1515.5" y1="751.7" x2="1515.5" y2="1224.8" stroke="#222" stroke-width="1.5"/>
<line x1="1506.0" y1="1224.8" x2="1986.7" y2="1224.8" stroke="#222" stroke-width="1.5"/>
<line x1="1506.0" y1="1224.8" x2="1515.5" y2="1224.8" stroke="#222" stroke-width="1.5"/>
<text x="1496.0" y="1232.3" font-size="21.5" text-anchor="end" fill="#222222">0</text>
<line x1="1506.0" y1="1106.5" x2="1515.5" y2="1106.5" stroke="#222" stroke-width="1.5"/>
<text x="1496.0" y="1114.0" font-size="21.5" text-anchor="end" fill="#222222">2</text>
<line x1="1506.0" y1="988.2" x2="1515.5" y2="988.2" stroke="#222" stroke-width="1.5"/>
<text x="1496.0" y="995.7" font-size="21.5" text-anchor="end" fill="#222222">4</text>
<line x1="1506.0" y1="870.0" x2="1515.5" y2="870.0" stroke="#222" stroke-width="1.5"/>
<text x="1496.0" y="877.5" font-size="21.5" text-anchor="end" fill="#222222">6</text>
<line x1="1506.0" y1="751.7" x2="1515.5" y2="751.7" stroke="#222" stroke-width="1.5"/>
<text x="1496.0" y="759.2" font-size="21.5" text-anchor="end" fill="#222222">8</text>
<line x1="1515.5" y1="1224.8" x2="1515.5" y2="1233.3" stroke="#222" stroke-width="1.5"/>
<text x="1515.0" y="1261.0" font-size="21.5" text-anchor="middle" fill="#222222">0</text>
<line x1="1633.3" y1="1224.8" x2="1633.3" y2="1233.3" stroke="#222" stroke-width="1.5"/>
<text x="1632.8" y="1261.0" font-size="21.5" text-anchor="middle" fill="#222222">1</text>
<line x1="1751.1" y1="1224.8" x2="1751.1" y2="1233.3" stroke="#222" stroke-width="1.5"/>
<text x="1750.6" y="1261.0" font-size="21.5" text-anchor="middle" fill="#222222">2</text>
<line x1="1868.9" y1="1224.8" x2="1868.9" y2="1233.3" stroke="#222" stroke-width="1.5"/>
<text x="1868.4" y="1261.0" font-size="21.5" text-anchor="middle" fill="#222222">3</text>
<line x1="1986.7" y1="1224.8" x2="1986.7" y2="1233.3" stroke="#222" stroke-width="1.5"/>
<text x="1986.2" y="1261.0" font-size="21.5" text-anchor="middle" fill="#222222">4</text>
<text x="1751.5" y="1297.0" font-size="25" text-anchor="middle" fill="#222222" textLength="104.5" lengthAdjust="spacingAndGlyphs">Force (g)</text>
<text x="1459.0" y="988.0" font-size="25" text-anchor="middle" fill="#222222" transform="rotate(-90 1459.0 988.0)" textLength="48.0" lengthAdjust="spacingAndGlyphs">VAS</text>
<line x1="1633.3" y1="1164.6" x2="1986.7" y2="1001.3" stroke="#111" stroke-width="2.3"/>
<path d="M1633.3,1159.7 Q1810.0,1078.7 1986.7,995.3" fill="none" stroke="#111" stroke-width="2.3"/>
<path d="M1632.3,1169.2 Q1810.0,1087.0 1986.7,1007.2" fill="none" stroke="#111" stroke-width="2.3"/>
<circle cx="1628.1" cy="1222.6" r="6.9" fill="#c9c9c9"/>
<circle cx="1634.3" cy="1222.6" r="6.9" fill="#4c9c8f"/>
<circle cx="1638.9" cy="1222.6" r="6.9" fill="#d7676b"/>
<circle cx="1628.1" cy="1163.6" r="6.9" fill="#c9c9c9"/>
<circle cx="1634.3" cy="1163.6" r="6.9" fill="#4c9c8f"/>
<circle cx="1638.9" cy="1163.6" r="6.9" fill="#d7676b"/>
<circle cx="1628.1" cy="1104.7" r="6.9" fill="#c9c9c9"/>
<circle cx="1634.3" cy="1104.7" r="6.9" fill="#4c9c8f"/>
<circle cx="1638.9" cy="1104.7" r="6.9" fill="#d7676b"/>
<circle cx="1628.1" cy="1045.8" r="6.9" fill="#c9c9c9"/>
<circle cx="1634.3" cy="1045.8" r="6.9" fill="#4c9c8f"/>
<circle cx="1745.9" cy="1163.6" r="6.9" fill="#c9c9c9"/>
<circle cx="1752.1" cy="1163.6" r="6.9" fill="#4c9c8f"/>
<circle cx="1756.7" cy="1163.6" r="6.9" fill="#d7676b"/>
<circle cx="1745.9" cy="1104.7" r="6.9" fill="#c9c9c9"/>
<circle cx="1752.1" cy="1104.7" r="6.9" fill="#4c9c8f"/>
<circle cx="1756.7" cy="1104.7" r="6.9" fill="#d7676b"/>
<circle cx="1745.9" cy="1045.8" r="6.9" fill="#c9c9c9"/>
<circle cx="1752.1" cy="1045.8" r="6.9" fill="#4c9c8f"/>
<circle cx="1756.7" cy="1045.8" r="6.9" fill="#d7676b"/>
<circle cx="1745.9" cy="986.8" r="6.9" fill="#c9c9c9"/>
<circle cx="1752.1" cy="986.8" r="6.9" fill="#4c9c8f"/>
<circle cx="1745.9" cy="927.8" r="6.9" fill="#c9c9c9"/>
<circle cx="1752.1" cy="927.8" r="6.9" fill="#4c9c8f"/>
<circle cx="1745.9" cy="868.9" r="6.9" fill="#c9c9c9"/>
<circle cx="1981.5" cy="1104.7" r="6.9" fill="#c9c9c9"/>
<circle cx="1987.7" cy="1104.7" r="6.9" fill="#4c9c8f"/>
<circle cx="1992.3" cy="1104.7" r="6.9" fill="#d7676b"/>
<circle cx="1981.5" cy="1045.8" r="6.9" fill="#c9c9c9"/>
<circle cx="1987.7" cy="1045.8" r="6.9" fill="#4c9c8f"/>
<circle cx="1992.3" cy="1045.8" r="6.9" fill="#d7676b"/>
<circle cx="1981.5" cy="986.8" r="6.9" fill="#c9c9c9"/>
<circle cx="1987.7" cy="986.8" r="6.9" fill="#4c9c8f"/>
<circle cx="1992.3" cy="986.8" r="6.9" fill="#d7676b"/>
<circle cx="1981.5" cy="927.8" r="6.9" fill="#c9c9c9"/>
<circle cx="1987.7" cy="927.8" r="6.9" fill="#4c9c8f"/>
<circle cx="1992.3" cy="927.8" r="6.9" fill="#d7676b"/>
<circle cx="1981.5" cy="868.9" r="6.9" fill="#c9c9c9"/>
<circle cx="1987.7" cy="868.9" r="6.9" fill="#4c9c8f"/>
<circle cx="1992.3" cy="868.9" r="6.9" fill="#d7676b"/>
<circle cx="1981.5" cy="809.9" r="6.9" fill="#c9c9c9"/>
<circle cx="1987.7" cy="809.9" r="6.9" fill="#4c9c8f"/>
<circle cx="1543.6" cy="879.8" r="7.6" fill="#c9c9c9"/>
<text x="1566.5" y="888.3" font-size="25" fill="#222222" textLength="90.0" lengthAdjust="spacingAndGlyphs">HC (93)</text>
<circle cx="1543.6" cy="917.5" r="7.6" fill="#4c9c8f"/>
<text x="1566.5" y="926.0" font-size="25" fill="#222222" textLength="98.0" lengthAdjust="spacingAndGlyphs">MCI (97)</text>
<circle cx="1543.6" cy="955.2" r="7.6" fill="#d7676b"/>
<text x="1566.5" y="963.7" font-size="25" fill="#222222" textLength="86.0" lengthAdjust="spacingAndGlyphs">AD (26)</text>
<text x="1548" y="781.5" font-size="25" fill="#222222" textLength="136" lengthAdjust="spacingAndGlyphs"><tspan font-style="italic">R</tspan><tspan font-size="15" dy="-10">2</tspan><tspan dy="10"> = 0.6302</tspan></text>
<text x="1549.5" y="817.5" font-size="25" fill="#222222" textLength="126.0" lengthAdjust="spacingAndGlyphs"><tspan font-style="italic">P</tspan> &lt; 0.0001</text>
<!-- panel_h -->
<text x="0.0" y="1389.2" font-size="35" fill="#111" font-weight="bold" stroke="#111" stroke-width="1.2">h</text>
<line x1="41.7" y1="1602.2" x2="1853.6" y2="1602.2" stroke="#333" stroke-width="1.5"/>
<line x1="96.6" y1="1602.2" x2="96.6" y2="1627.6" stroke="#333" stroke-width="1.5"/>
<line x1="630.2" y1="1602.2" x2="630.2" y2="1627.6" stroke="#333" stroke-width="1.5"/>
<line x1="706.6" y1="1602.2" x2="706.6" y2="1627.6" stroke="#333" stroke-width="1.5"/>
<line x1="1262.2" y1="1602.2" x2="1262.2" y2="1627.6" stroke="#333" stroke-width="1.5"/>
<line x1="1800.3" y1="1602.2" x2="1800.3" y2="1627.6" stroke="#333" stroke-width="1.5"/>
<text x="47.5" y="1655.4" font-size="20" fill="#222222" textLength="98.0" lengthAdjust="spacingAndGlyphs">12 w mice</text>
<text x="634.8" y="1655.4" font-size="20" fill="#222222" textLength="65.0" lengthAdjust="spacingAndGlyphs">3 days</text>
<text x="362.8" y="1700.0" font-size="25" text-anchor="middle" fill="#4a4a4a" textLength="182.0" lengthAdjust="spacingAndGlyphs">Sticky tape test</text>
<text x="362.8" y="1753.2" font-size="25" text-anchor="middle" fill="#c9878c" textLength="45.0" lengthAdjust="spacingAndGlyphs">Bite</text>
<text x="362.8" y="1783.9" font-size="25" text-anchor="middle" fill="#c9878c" textLength="92.0" lengthAdjust="spacingAndGlyphs">Scratch</text>
<text x="362.8" y="1814.5" font-size="25" text-anchor="middle" fill="#c9878c" textLength="188.0" lengthAdjust="spacingAndGlyphs">‘Wet dog shake’</text>
<text x="951.5" y="1467.0" font-size="25" text-anchor="middle" fill="#4a4a4a" textLength="156.0" lengthAdjust="spacingAndGlyphs">Von Frey test</text>
<text x="948.0" y="1509.0" font-size="25" text-anchor="middle" fill="#c9878c" textLength="182.0" lengthAdjust="spacingAndGlyphs">Eight trials with</text>
<text x="951.5" y="1540.0" font-size="25" text-anchor="middle" fill="#c9878c" textLength="250.0" lengthAdjust="spacingAndGlyphs">an interval of 1–2 min</text>
<text x="1554.4" y="1700.0" font-size="25" text-anchor="middle" fill="#4a4a4a" textLength="229.0" lengthAdjust="spacingAndGlyphs">Dynamic touch test</text>
<text x="1551.0" y="1753.2" font-size="25" text-anchor="middle" fill="#c9878c" textLength="182.0" lengthAdjust="spacingAndGlyphs">Eight trials with</text>
<text x="1553.5" y="1783.9" font-size="25" text-anchor="middle" fill="#c9878c" textLength="250.0" lengthAdjust="spacingAndGlyphs">an interval of 1–2 min</text>
<text x="1913.5" y="1578.4" font-size="25" text-anchor="middle" fill="#4a4a4a" textLength="67.0" lengthAdjust="spacingAndGlyphs">Other</text>
<text x="1914.4" y="1609.1" font-size="25" text-anchor="middle" fill="#4a4a4a" textLength="91.0" lengthAdjust="spacingAndGlyphs">sensory</text>
<text x="1917.0" y="1639.8" font-size="25" text-anchor="middle" fill="#4a4a4a" textLength="43.0" lengthAdjust="spacingAndGlyphs">test</text>
<rect x="138.3" y="1372.0" width="448.3" height="213.5" fill="#fff" stroke="#111" stroke-width="2"/>
<rect x="748.5" y="1620.9" width="470.3" height="223.6" fill="#fff" stroke="#111" stroke-width="2"/>
<rect x="1295.2" y="1361.0" width="469.7" height="223.1" fill="#fff" stroke="#111" stroke-width="2"/>
<g transform="translate(130,1365) scale(0.13889)">
<path d="M1360,1272 C1520,1262 1652,1160 1652,1000 C1652,850 1440,720 1420,520 C1410,420 1440,330 1470,268 C1420,320 1365,420 1370,540 C1380,740 1592,840 1592,990 C1592,1110 1490,1200 1355,1205 Z" fill="#e2a6a6"/>
<circle cx="935.0" cy="348.0" r="185" fill="#b4b6b9"/>
<path d="M640,860 C600,1000 620,1150 650,1180 C600,1260 620,1400 720,1440 L760,1495 L1180,1490 C1330,1470 1390,1330 1365,1200 C1340,1060 1220,930 1090,860 Z" fill="#c8cacc"/>
<path d="M650,1180 C600,1260 620,1400 720,1440 L760,1495 L1180,1490 C1290,1470 1350,1400 1365,1300 C1200,1340 980,1380 880,1440 C800,1380 700,1260 650,1180 Z" fill="#b2b4b7" fill-opacity="0.75"/>
<path d="M640,1030 L720,1030 C780,1150 820,1330 850,1460 L790,1440 C740,1300 660,1180 640,1030 Z" fill="#ebe3e4"/>
<path d="M760,1440 L800,1440 L830,1498 L760,1498 Z" fill="#d99b9e"/>
<path d="M670,1430 C690,1400 740,1400 760,1430 L750,1470 C720,1480 690,1470 670,1430 Z" fill="#bfc1c4"/>
<path d="M200,420 C210,560 330,720 520,810 C600,850 680,900 720,930 C820,960 960,900 1010,860 L820,500 Z" fill="#b2b4b7"/>
<path d="M198,330 C330,280 560,240 720,245 C790,250 830,300 850,380 C880,480 850,560 780,620 C640,720 420,640 300,560 C230,500 195,420 198,330 Z" fill="#c8cacc"/>
<circle cx="1020.0" cy="650.0" r="222" fill="#c6c8ca"/>
<circle cx="1005.0" cy="640.0" r="195" fill="#dba5a5"/>
<circle cx="525.0" cy="375.0" r="62" fill="#fff"/>
<circle cx="520.0" cy="365.0" r="43" fill="#111"/>
<circle cx="500.0" cy="348.0" r="11" fill="#fff"/>
<ellipse cx="222" cy="322" rx="38" ry="28" fill="#111"/>
<circle cx="208.0" cy="316.0" r="8" fill="#ddd"/>
<path d="M628,308 Q655,312 652,340" fill="none" stroke="#333" stroke-width="9"/>
<path d="M215,262 Q180,225 150,210" fill="none" stroke="#333" stroke-width="5"/>
<path d="M200,268 Q160,245 120,222" fill="none" stroke="#333" stroke-width="5"/>
<path d="M165,272 Q120,262 85,262" fill="none" stroke="#333" stroke-width="5"/>
<path d="M232,390 Q250,440 258,480" fill="none" stroke="#333" stroke-width="5"/>
<path d="M255,385 Q285,450 305,520" fill="none" stroke="#333" stroke-width="5"/>
<path d="M280,378 Q310,425 335,465" fill="none" stroke="#333" stroke-width="5"/>
<path d="M760,900 L620,905 L450,940 C430,960 440,1000 440,1040 L470,1050 L520,1015 L700,1010 L800,990 Z" fill="#b9bbbe"/>
<path d="M440,985 L500,975 L520,1015 L470,1062 L440,1040 Z" fill="#dba5a5"/>
<path d="M1035,945 L1130,888 L1515,1118 L1400,1205 Z" fill="#5dab9f"/>
<text x="1130.0" y="945.0" font-size="50" fill="#1e4a44" transform="rotate(33 1130.0 945.0)" textLength="290.0" lengthAdjust="spacingAndGlyphs">Sticky note</text>
</g>
<g transform="translate(354,1365) scale(0.13889)">
<path d="M1360,1272 C1520,1262 1652,1160 1652,1000 C1652,850 1440,720 1420,520 C1410,420 1440,330 1470,268 C1420,320 1365,420 1370,540 C1380,740 1592,840 1592,990 C1592,1110 1490,1200 1355,1205 Z" fill="#e2a6a6"/>
<circle cx="935.0" cy="348.0" r="185" fill="#b4b6b9"/>
<path d="M640,860 C600,1000 620,1150 650,1180 C600,1260 620,1400 720,1440 L760,1495 L1180,1490 C1330,1470 1390,1330 1365,1200 C1340,1060 1220,930 1090,860 Z" fill="#c8cacc"/>
<path d="M650,1180 C600,1260 620,1400 720,1440 L760,1495 L1180,1490 C1290,1470 1350,1400 1365,1300 C1200,1340 980,1380 880,1440 C800,1380 700,1260 650,1180 Z" fill="#b2b4b7" fill-opacity="0.75"/>
<path d="M625,880 L690,930 C760,1100 820,1300 850,1460 L790,1440 C700,1250 620,1080 625,880 Z" fill="#ebe3e4"/>
<path d="M760,1440 L800,1440 L830,1498 L760,1498 Z" fill="#d99b9e"/>
<path d="M670,1430 C690,1400 740,1400 760,1430 L750,1470 C720,1480 690,1470 670,1430 Z" fill="#bfc1c4"/>
<path d="M200,420 C210,560 330,720 520,810 C600,850 680,900 720,930 C820,960 960,900 1010,860 L820,500 Z" fill="#b2b4b7"/>
<path d="M198,330 C330,280 560,240 720,245 C790,250 830,300 850,380 C880,480 850,560 780,620 C640,720 420,640 300,560 C230,500 195,420 198,330 Z" fill="#c8cacc"/>
<circle cx="1020.0" cy="650.0" r="222" fill="#c6c8ca"/>
<circle cx="1005.0" cy="640.0" r="195" fill="#dba5a5"/>
<circle cx="525.0" cy="375.0" r="62" fill="#fff"/>
<circle cx="540.0" cy="380.0" r="43" fill="#111"/>
<circle cx="562.0" cy="392.0" r="11" fill="#fff"/>
<ellipse cx="222" cy="322" rx="38" ry="28" fill="#111"/>
<circle cx="208.0" cy="316.0" r="8" fill="#ddd"/>
<path d="M628,308 Q655,312 652,340" fill="none" stroke="#333" stroke-width="9"/>
<path d="M215,262 Q180,225 150,210" fill="none" stroke="#333" stroke-width="5"/>
<path d="M200,268 Q160,245 120,222" fill="none" stroke="#333" stroke-width="5"/>
<path d="M165,272 Q120,262 85,262" fill="none" stroke="#333" stroke-width="5"/>
<path d="M232,390 Q250,440 258,480" fill="none" stroke="#333" stroke-width="5"/>
<path d="M255,385 Q285,450 305,520" fill="none" stroke="#333" stroke-width="5"/>
<path d="M280,378 Q310,425 335,465" fill="none" stroke="#333" stroke-width="5"/>
<path d="M850,990 L1110,1000 L1110,1085 L850,1060 Z" fill="#b9bbbe"/>
<path d="M1100,1005 L1180,1010 L1190,1070 L1110,1085 Z" fill="#dba5a5"/>
<path d="M1080,1130 Q1140,1120 1160,1075" fill="none" stroke="#888" stroke-width="6"/>
<path d="M1085,1155 Q1160,1150 1185,1090" fill="none" stroke="#888" stroke-width="6"/>
<path d="M1060,965 L1130,888 L1562,990 L1490,1102 Z" fill="#5dab9f"/>
<path d="M1015,945 L1075,985" fill="none" stroke="#777" stroke-width="6"/>
<text x="1155.0" y="935.0" font-size="50" fill="#1e4a44" transform="rotate(15 1155.0 935.0)" textLength="280.0" lengthAdjust="spacingAndGlyphs">Sticky note</text>
</g>
<g transform="translate(745.0,1615.0) scale(0.13889)">
<path d="M520,365 C600,285 850,275 960,420 C1080,560 1150,780 1130,900 C1120,990 1050,1000 960,960 C900,940 800,965 720,930 C620,880 560,800 520,720 C470,670 435,645 428,612 C430,575 480,520 520,365 Z" fill="#cfd0d2"/>
<path d="M830,420 C930,420 1020,520 1070,640 C1130,780 1150,900 1100,950 C1040,990 980,930 930,880 C860,800 800,700 790,600 C780,520 790,450 830,420 Z" fill="#b0b2b5"/>
<path d="M560,560 C640,520 760,560 800,640 C820,720 760,800 700,800 C620,780 560,680 560,560 Z" fill="#bcbdc0"/>
<path d="M640,860 C720,820 860,830 940,900 C900,950 760,960 680,920 Z" fill="#e3e3e6"/>
<circle cx="590.0" cy="345.0" r="66" fill="#dadbdd"/>
<circle cx="590.0" cy="350.0" r="50" fill="#e9a3a3"/>
<circle cx="790.0" cy="350.0" r="72" fill="#dadbdd"/>
<circle cx="790.0" cy="355.0" r="55" fill="#e9a3a3"/>
<ellipse cx="430" cy="790" rx="45" ry="28" fill="#efb4b4"/>
<ellipse cx="830" cy="690" rx="42" ry="32" fill="#ee9fa3"/>
<ellipse cx="1040" cy="830" rx="30" ry="40" fill="#efb4b4"/>
<path d="M545,830 C440,835 345,870 358,930 C372,992 520,1000 640,1005 C780,1010 900,992 955,975 L1050,968" fill="none" stroke="#a16a4c" stroke-width="28" stroke-linecap="round"/>
<path d="M480,985 C600,1000 760,1000 900,975" fill="none" stroke="#e8a89f" stroke-width="12" stroke-opacity="0.8"/>
<ellipse cx="665" cy="495" rx="15" ry="23" fill="#111"/>
<circle cx="432.0" cy="608.0" r="26" fill="#111"/>
<line x1="110.0" y1="230.0" x2="403.5" y2="1162.0" stroke="#7a7a7a" stroke-width="6.4"/>
<line x1="171.7" y1="230.0" x2="439.7" y2="1162.0" stroke="#7a7a7a" stroke-width="6.4"/>
<line x1="233.5" y1="230.0" x2="475.9" y2="1162.0" stroke="#7a7a7a" stroke-width="6.4"/>
<line x1="295.2" y1="230.0" x2="512.1" y2="1162.0" stroke="#7a7a7a" stroke-width="6.4"/>
<line x1="357.0" y1="230.0" x2="548.4" y2="1162.0" stroke="#7a7a7a" stroke-width="6.4"/>
<line x1="418.7" y1="230.0" x2="584.6" y2="1162.0" stroke="#7a7a7a" stroke-width="6.4"/>
<line x1="480.4" y1="230.0" x2="620.8" y2="1162.0" stroke="#7a7a7a" stroke-width="6.4"/>
<line x1="542.2" y1="230.0" x2="657.0" y2="1162.0" stroke="#7a7a7a" stroke-width="6.4"/>
<line x1="603.9" y1="230.0" x2="693.2" y2="1162.0" stroke="#7a7a7a" stroke-width="6.4"/>
<line x1="665.7" y1="230.0" x2="729.5" y2="1162.0" stroke="#7a7a7a" stroke-width="6.4"/>
<line x1="727.4" y1="230.0" x2="765.7" y2="1162.0" stroke="#7a7a7a" stroke-width="6.4"/>
<line x1="789.1" y1="230.0" x2="801.9" y2="1162.0" stroke="#7a7a7a" stroke-width="6.4"/>
<line x1="850.9" y1="230.0" x2="838.1" y2="1162.0" stroke="#7a7a7a" stroke-width="6.4"/>
<line x1="912.6" y1="230.0" x2="874.3" y2="1162.0" stroke="#7a7a7a" stroke-width="6.4"/>
<line x1="974.3" y1="230.0" x2="910.5" y2="1162.0" stroke="#7a7a7a" stroke-width="6.4"/>
<line x1="1036.1" y1="230.0" x2="946.8" y2="1162.0" stroke="#7a7a7a" stroke-width="6.4"/>
<line x1="1097.8" y1="230.0" x2="983.0" y2="1162.0" stroke="#7a7a7a" stroke-width="6.4"/>
<line x1="1159.6" y1="230.0" x2="1019.2" y2="1162.0" stroke="#7a7a7a" stroke-width="6.4"/>
<line x1="1221.3" y1="230.0" x2="1055.4" y2="1162.0" stroke="#7a7a7a" stroke-width="6.4"/>
<line x1="1283.0" y1="230.0" x2="1091.6" y2="1162.0" stroke="#7a7a7a" stroke-width="6.4"/>
<line x1="1344.8" y1="230.0" x2="1127.9" y2="1162.0" stroke="#7a7a7a" stroke-width="6.4"/>
<line x1="1406.5" y1="230.0" x2="1164.1" y2="1162.0" stroke="#7a7a7a" stroke-width="6.4"/>
<line x1="1468.3" y1="230.0" x2="1200.3" y2="1162.0" stroke="#7a7a7a" stroke-width="6.4"/>
<line x1="1530.0" y1="230.0" x2="1236.5" y2="1162.0" stroke="#7a7a7a" stroke-width="6.4"/>
<line x1="111.0" y1="322.0" x2="1523.0" y2="322.0" stroke="#7a7a7a" stroke-width="6.4"/>
<line x1="137.2" y1="405.0" x2="1496.8" y2="405.0" stroke="#7a7a7a" stroke-width="6.4"/>
<line x1="163.0" y1="487.0" x2="1471.0" y2="487.0" stroke="#7a7a7a" stroke-width="6.4"/>
<line x1="186.0" y1="560.0" x2="1448.0" y2="560.0" stroke="#7a7a7a" stroke-width="6.4"/>
<line x1="207.5" y1="628.0" x2="1426.5" y2="628.0" stroke="#7a7a7a" stroke-width="6.4"/>
<line x1="227.0" y1="690.0" x2="1407.0" y2="690.0" stroke="#7a7a7a" stroke-width="6.4"/>
<line x1="245.9" y1="750.0" x2="1388.1" y2="750.0" stroke="#7a7a7a" stroke-width="6.4"/>
<line x1="263.2" y1="805.0" x2="1370.8" y2="805.0" stroke="#7a7a7a" stroke-width="6.4"/>
<line x1="279.3" y1="856.0" x2="1354.7" y2="856.0" stroke="#7a7a7a" stroke-width="6.4"/>
<line x1="294.8" y1="905.0" x2="1339.2" y2="905.0" stroke="#7a7a7a" stroke-width="6.4"/>
<line x1="309.0" y1="950.0" x2="1325.0" y2="950.0" stroke="#7a7a7a" stroke-width="6.4"/>
<line x1="322.2" y1="992.0" x2="1311.8" y2="992.0" stroke="#7a7a7a" stroke-width="6.4"/>
<line x1="334.2" y1="1030.0" x2="1299.8" y2="1030.0" stroke="#7a7a7a" stroke-width="6.4"/>
<line x1="345.5" y1="1066.0" x2="1288.5" y2="1066.0" stroke="#7a7a7a" stroke-width="6.4"/>
<line x1="356.2" y1="1100.0" x2="1277.8" y2="1100.0" stroke="#7a7a7a" stroke-width="6.4"/>
<line x1="366.3" y1="1132.0" x2="1267.7" y2="1132.0" stroke="#7a7a7a" stroke-width="6.4"/>
<line x1="1290.0" y1="1350.0" x2="985.0" y2="965.0" stroke="#b9bbc0" stroke-width="26"/>
<line x1="1290.0" y1="1350.0" x2="985.0" y2="965.0" stroke="#e9eaee" stroke-width="16"/>
<path d="M1000,938 Q1005,880 1040,826" fill="none" stroke="#2a2a2a" stroke-width="7"/>
<g transform="translate(1212,1150)">
<path d="M480,105 L480,275 L330,258 C250,262 170,262 110,250 C70,232 40,215 30,190 C10,170 5,140 15,120 C10,95 30,70 60,55 C90,20 150,0 205,5 C260,10 320,60 390,100 Z" fill="#f8d2c6" stroke="#c77f78" stroke-width="4"/>
<path d="M60,55 C100,70 150,75 200,60" fill="none" stroke="#c77f78" stroke-width="4"/>
<path d="M15,120 C60,125 110,120 150,105" fill="none" stroke="#c77f78" stroke-width="4"/>
<path d="M30,190 C70,190 110,180 140,165" fill="none" stroke="#c77f78" stroke-width="4"/>
<path d="M110,250 C140,235 170,215 185,195" fill="none" stroke="#c77f78" stroke-width="4"/>
<path d="M150,110 C220,120 290,170 330,215" fill="none" stroke="#e79c96" stroke-width="10" stroke-opacity="0.7"/>
<path d="M100,165 C150,200 200,215 260,215" fill="none" stroke="#ec9f9b" stroke-width="16" stroke-opacity="0.55"/>
</g>
<line x1="1300.0" y1="1362.0" x2="1235.0" y2="1280.0" stroke="#e9eaee" stroke-width="16"/>
</g>
<g transform="translate(982.1,1616.3) scale(0.13333)">
<path d="M520,365 C600,285 850,275 960,420 C1080,560 1150,780 1130,900 C1120,990 1050,1000 960,960 C900,940 800,965 720,930 C620,880 560,800 520,720 C470,670 435,645 428,612 C430,575 480,520 520,365 Z" fill="#cfd0d2"/>
<path d="M830,420 C930,420 1020,520 1070,640 C1130,780 1150,900 1100,950 C1040,990 980,930 930,880 C860,800 800,700 790,600 C780,520 790,450 830,420 Z" fill="#b0b2b5"/>
<path d="M560,560 C640,520 760,560 800,640 C820,720 760,800 700,800 C620,780 560,680 560,560 Z" fill="#bcbdc0"/>
<path d="M640,860 C720,820 860,830 940,900 C900,950 760,960 680,920 Z" fill="#e3e3e6"/>
<circle cx="590.0" cy="345.0" r="66" fill="#dadbdd"/>
<circle cx="590.0" cy="350.0" r="50" fill="#e9a3a3"/>
<circle cx="790.0" cy="350.0" r="72" fill="#dadbdd"/>
<circle cx="790.0" cy="355.0" r="55" fill="#e9a3a3"/>
<ellipse cx="430" cy="790" rx="45" ry="28" fill="#efb4b4"/>
<ellipse cx="830" cy="690" rx="42" ry="32" fill="#ee9fa3"/>
<ellipse cx="1040" cy="830" rx="30" ry="40" fill="#efb4b4"/>
<path d="M545,830 C440,835 345,870 358,930 C372,992 520,1000 640,1005 C780,1010 900,992 955,975 L1050,968" fill="none" stroke="#a16a4c" stroke-width="28" stroke-linecap="round"/>
<path d="M480,985 C600,1000 760,1000 900,975" fill="none" stroke="#e8a89f" stroke-width="12" stroke-opacity="0.8"/>
<ellipse cx="665" cy="495" rx="15" ry="23" fill="#111"/>
<circle cx="432.0" cy="608.0" r="26" fill="#111"/>
<line x1="110.0" y1="230.0" x2="403.5" y2="1162.0" stroke="#7a7a7a" stroke-width="6.4"/>
<line x1="171.7" y1="230.0" x2="439.7" y2="1162.0" stroke="#7a7a7a" stroke-width="6.4"/>
<line x1="233.5" y1="230.0" x2="475.9" y2="1162.0" stroke="#7a7a7a" stroke-width="6.4"/>
<line x1="295.2" y1="230.0" x2="512.1" y2="1162.0" stroke="#7a7a7a" stroke-width="6.4"/>
<line x1="357.0" y1="230.0" x2="548.4" y2="1162.0" stroke="#7a7a7a" stroke-width="6.4"/>
<line x1="418.7" y1="230.0" x2="584.6" y2="1162.0" stroke="#7a7a7a" stroke-width="6.4"/>
<line x1="480.4" y1="230.0" x2="620.8" y2="1162.0" stroke="#7a7a7a" stroke-width="6.4"/>
<line x1="542.2" y1="230.0" x2="657.0" y2="1162.0" stroke="#7a7a7a" stroke-width="6.4"/>
<line x1="603.9" y1="230.0" x2="693.2" y2="1162.0" stroke="#7a7a7a" stroke-width="6.4"/>
<line x1="665.7" y1="230.0" x2="729.5" y2="1162.0" stroke="#7a7a7a" stroke-width="6.4"/>
<line x1="727.4" y1="230.0" x2="765.7" y2="1162.0" stroke="#7a7a7a" stroke-width="6.4"/>
<line x1="789.1" y1="230.0" x2="801.9" y2="1162.0" stroke="#7a7a7a" stroke-width="6.4"/>
<line x1="850.9" y1="230.0" x2="838.1" y2="1162.0" stroke="#7a7a7a" stroke-width="6.4"/>
<line x1="912.6" y1="230.0" x2="874.3" y2="1162.0" stroke="#7a7a7a" stroke-width="6.4"/>
<line x1="974.3" y1="230.0" x2="910.5" y2="1162.0" stroke="#7a7a7a" stroke-width="6.4"/>
<line x1="1036.1" y1="230.0" x2="946.8" y2="1162.0" stroke="#7a7a7a" stroke-width="6.4"/>
<line x1="1097.8" y1="230.0" x2="983.0" y2="1162.0" stroke="#7a7a7a" stroke-width="6.4"/>
<line x1="1159.6" y1="230.0" x2="1019.2" y2="1162.0" stroke="#7a7a7a" stroke-width="6.4"/>
<line x1="1221.3" y1="230.0" x2="1055.4" y2="1162.0" stroke="#7a7a7a" stroke-width="6.4"/>
<line x1="1283.0" y1="230.0" x2="1091.6" y2="1162.0" stroke="#7a7a7a" stroke-width="6.4"/>
<line x1="1344.8" y1="230.0" x2="1127.9" y2="1162.0" stroke="#7a7a7a" stroke-width="6.4"/>
<line x1="1406.5" y1="230.0" x2="1164.1" y2="1162.0" stroke="#7a7a7a" stroke-width="6.4"/>
<line x1="1468.3" y1="230.0" x2="1200.3" y2="1162.0" stroke="#7a7a7a" stroke-width="6.4"/>
<line x1="1530.0" y1="230.0" x2="1236.5" y2="1162.0" stroke="#7a7a7a" stroke-width="6.4"/>
<line x1="111.0" y1="322.0" x2="1523.0" y2="322.0" stroke="#7a7a7a" stroke-width="6.4"/>
<line x1="137.2" y1="405.0" x2="1496.8" y2="405.0" stroke="#7a7a7a" stroke-width="6.4"/>
<line x1="163.0" y1="487.0" x2="1471.0" y2="487.0" stroke="#7a7a7a" stroke-width="6.4"/>
<line x1="186.0" y1="560.0" x2="1448.0" y2="560.0" stroke="#7a7a7a" stroke-width="6.4"/>
<line x1="207.5" y1="628.0" x2="1426.5" y2="628.0" stroke="#7a7a7a" stroke-width="6.4"/>
<line x1="227.0" y1="690.0" x2="1407.0" y2="690.0" stroke="#7a7a7a" stroke-width="6.4"/>
<line x1="245.9" y1="750.0" x2="1388.1" y2="750.0" stroke="#7a7a7a" stroke-width="6.4"/>
<line x1="263.2" y1="805.0" x2="1370.8" y2="805.0" stroke="#7a7a7a" stroke-width="6.4"/>
<line x1="279.3" y1="856.0" x2="1354.7" y2="856.0" stroke="#7a7a7a" stroke-width="6.4"/>
<line x1="294.8" y1="905.0" x2="1339.2" y2="905.0" stroke="#7a7a7a" stroke-width="6.4"/>
<line x1="309.0" y1="950.0" x2="1325.0" y2="950.0" stroke="#7a7a7a" stroke-width="6.4"/>
<line x1="322.2" y1="992.0" x2="1311.8" y2="992.0" stroke="#7a7a7a" stroke-width="6.4"/>
<line x1="334.2" y1="1030.0" x2="1299.8" y2="1030.0" stroke="#7a7a7a" stroke-width="6.4"/>
<line x1="345.5" y1="1066.0" x2="1288.5" y2="1066.0" stroke="#7a7a7a" stroke-width="6.4"/>
<line x1="356.2" y1="1100.0" x2="1277.8" y2="1100.0" stroke="#7a7a7a" stroke-width="6.4"/>
<line x1="366.3" y1="1132.0" x2="1267.7" y2="1132.0" stroke="#7a7a7a" stroke-width="6.4"/>
<line x1="1290.0" y1="1350.0" x2="985.0" y2="965.0" stroke="#b9bbc0" stroke-width="26"/>
<line x1="1290.0" y1="1350.0" x2="985.0" y2="965.0" stroke="#e9eaee" stroke-width="16"/>
<path d="M1000,938 Q1005,880 1040,826" fill="none" stroke="#2a2a2a" stroke-width="7"/>
<g transform="translate(1212,1150)">
<path d="M480,105 L480,275 L330,258 C250,262 170,262 110,250 C70,232 40,215 30,190 C10,170 5,140 15,120 C10,95 30,70 60,55 C90,20 150,0 205,5 C260,10 320,60 390,100 Z" fill="#f8d2c6" stroke="#c77f78" stroke-width="4"/>
<path d="M60,55 C100,70 150,75 200,60" fill="none" stroke="#c77f78" stroke-width="4"/>
<path d="M15,120 C60,125 110,120 150,105" fill="none" stroke="#c77f78" stroke-width="4"/>
<path d="M30,190 C70,190 110,180 140,165" fill="none" stroke="#c77f78" stroke-width="4"/>
<path d="M110,250 C140,235 170,215 185,195" fill="none" stroke="#c77f78" stroke-width="4"/>
<path d="M150,110 C220,120 290,170 330,215" fill="none" stroke="#e79c96" stroke-width="10" stroke-opacity="0.7"/>
<path d="M100,165 C150,200 200,215 260,215" fill="none" stroke="#ec9f9b" stroke-width="16" stroke-opacity="0.55"/>
</g>
<line x1="1300.0" y1="1362.0" x2="1235.0" y2="1280.0" stroke="#e9eaee" stroke-width="16"/>
</g>
<g transform="translate(1290.0,1355.0) scale(0.13889)">
<line x1="372.0" y1="352.0" x2="100.0" y2="1252.0" stroke="#7a7a7a" stroke-width="6.4"/>
<line x1="407.8" y1="352.0" x2="160.0" y2="1252.0" stroke="#7a7a7a" stroke-width="6.4"/>
<line x1="443.5" y1="352.0" x2="220.0" y2="1252.0" stroke="#7a7a7a" stroke-width="6.4"/>
<line x1="479.2" y1="352.0" x2="280.0" y2="1252.0" stroke="#7a7a7a" stroke-width="6.4"/>
<line x1="515.0" y1="352.0" x2="340.0" y2="1252.0" stroke="#7a7a7a" stroke-width="6.4"/>
<line x1="550.8" y1="352.0" x2="400.0" y2="1252.0" stroke="#7a7a7a" stroke-width="6.4"/>
<line x1="586.5" y1="352.0" x2="460.0" y2="1252.0" stroke="#7a7a7a" stroke-width="6.4"/>
<line x1="622.2" y1="352.0" x2="520.0" y2="1252.0" stroke="#7a7a7a" stroke-width="6.4"/>
<line x1="658.0" y1="352.0" x2="580.0" y2="1252.0" stroke="#7a7a7a" stroke-width="6.4"/>
<line x1="693.8" y1="352.0" x2="640.0" y2="1252.0" stroke="#7a7a7a" stroke-width="6.4"/>
<line x1="729.5" y1="352.0" x2="700.0" y2="1252.0" stroke="#7a7a7a" stroke-width="6.4"/>
<line x1="765.2" y1="352.0" x2="760.0" y2="1252.0" stroke="#7a7a7a" stroke-width="6.4"/>
<line x1="801.0" y1="352.0" x2="820.0" y2="1252.0" stroke="#7a7a7a" stroke-width="6.4"/>
<line x1="836.8" y1="352.0" x2="880.0" y2="1252.0" stroke="#7a7a7a" stroke-width="6.4"/>
<line x1="872.5" y1="352.0" x2="940.0" y2="1252.0" stroke="#7a7a7a" stroke-width="6.4"/>
<line x1="908.2" y1="352.0" x2="1000.0" y2="1252.0" stroke="#7a7a7a" stroke-width="6.4"/>
<line x1="944.0" y1="352.0" x2="1060.0" y2="1252.0" stroke="#7a7a7a" stroke-width="6.4"/>
<line x1="979.8" y1="352.0" x2="1120.0" y2="1252.0" stroke="#7a7a7a" stroke-width="6.4"/>
<line x1="1015.5" y1="352.0" x2="1180.0" y2="1252.0" stroke="#7a7a7a" stroke-width="6.4"/>
<line x1="1051.2" y1="352.0" x2="1240.0" y2="1252.0" stroke="#7a7a7a" stroke-width="6.4"/>
<line x1="1087.0" y1="352.0" x2="1300.0" y2="1252.0" stroke="#7a7a7a" stroke-width="6.4"/>
<line x1="1122.8" y1="352.0" x2="1360.0" y2="1252.0" stroke="#7a7a7a" stroke-width="6.4"/>
<line x1="1158.5" y1="352.0" x2="1420.0" y2="1252.0" stroke="#7a7a7a" stroke-width="6.4"/>
<line x1="1194.2" y1="352.0" x2="1480.0" y2="1252.0" stroke="#7a7a7a" stroke-width="6.4"/>
<line x1="1230.0" y1="352.0" x2="1540.0" y2="1252.0" stroke="#7a7a7a" stroke-width="6.4"/>
<line x1="347.0" y1="375.0" x2="1255.7" y2="375.0" stroke="#7a7a7a" stroke-width="6.4"/>
<line x1="330.4" y1="430.0" x2="1274.2" y2="430.0" stroke="#7a7a7a" stroke-width="6.4"/>
<line x1="312.3" y1="490.0" x2="1294.3" y2="490.0" stroke="#7a7a7a" stroke-width="6.4"/>
<line x1="294.8" y1="548.0" x2="1313.8" y2="548.0" stroke="#7a7a7a" stroke-width="6.4"/>
<line x1="279.0" y1="600.0" x2="1331.2" y2="600.0" stroke="#7a7a7a" stroke-width="6.4"/>
<line x1="263.9" y1="650.0" x2="1348.0" y2="650.0" stroke="#7a7a7a" stroke-width="6.4"/>
<line x1="249.7" y1="697.0" x2="1363.8" y2="697.0" stroke="#7a7a7a" stroke-width="6.4"/>
<line x1="234.6" y1="747.0" x2="1380.5" y2="747.0" stroke="#7a7a7a" stroke-width="6.4"/>
<line x1="218.0" y1="802.0" x2="1399.0" y2="802.0" stroke="#7a7a7a" stroke-width="6.4"/>
<line x1="199.9" y1="862.0" x2="1419.1" y2="862.0" stroke="#7a7a7a" stroke-width="6.4"/>
<line x1="180.2" y1="927.0" x2="1440.9" y2="927.0" stroke="#7a7a7a" stroke-width="6.4"/>
<line x1="159.1" y1="997.0" x2="1464.4" y2="997.0" stroke="#7a7a7a" stroke-width="6.4"/>
<line x1="135.5" y1="1075.0" x2="1490.6" y2="1075.0" stroke="#7a7a7a" stroke-width="6.4"/>
<line x1="109.8" y1="1160.0" x2="1519.1" y2="1160.0" stroke="#7a7a7a" stroke-width="6.4"/>
<path d="M545,712 C470,740 430,810 460,870 C480,910 530,930 575,935" fill="none" stroke="#b3775c" stroke-width="14"/>
<path d="M575,1050 C560,960 600,820 700,700 C800,570 930,440 1030,425 C1110,420 1160,500 1165,620 C1170,740 1130,860 1060,930 C980,960 860,960 760,1010 C700,1050 640,1075 575,1050 Z" fill="#c6c7c9"/>
<ellipse cx="610" cy="728" rx="48" ry="58" fill="#d3d4d6"/><ellipse cx="608" cy="728" rx="30" ry="40" fill="#eba5a6"/>
<ellipse cx="795" cy="805" rx="52" ry="66" fill="#d3d4d6"/><ellipse cx="793" cy="806" rx="34" ry="46" fill="#eba5a6"/>
<path d="M960,950 L1060,905 L1075,985 L985,990 Z" fill="#f0b2b3"/>
<path d="M735,1000 L790,990 L775,1020 L745,1025 Z" fill="#f0b2b3"/>
<ellipse cx="716" cy="918" rx="20" ry="24" fill="#111" transform="rotate(25 716 918)"/>
<ellipse cx="605" cy="906" rx="6" ry="16" fill="#111"/>
<circle cx="583.0" cy="1065.0" r="22" fill="#111"/>
<line x1="1535.0" y1="1410.0" x2="1170.0" y2="1120.0" stroke="#b8833d" stroke-width="24"/>
<line x1="1170.0" y1="1120.0" x2="1095.0" y2="1068.0" stroke="#d8d2c4" stroke-width="46"/>
<line x1="1095.0" y1="1068.0" x2="1045.0" y2="1038.0" stroke="#85878a" stroke-width="40"/>
<path d="M1052,1044 L1012,1022" fill="none" stroke="#2a2a2a" stroke-width="24" stroke-linecap="round"/>
<g transform="translate(1310,1140) scale(1.05)">
<path d="M420,60 L420,270 L330,258 C250,262 170,262 110,250 C70,232 40,215 30,190 C10,170 5,140 15,120 C10,95 30,70 60,55 C90,20 150,0 205,5 C260,10 330,20 420,60 Z" fill="#f8d2c6" stroke="#c77f78" stroke-width="4"/>
<path d="M60,55 C100,70 150,75 200,60" fill="none" stroke="#c77f78" stroke-width="4"/>
<path d="M15,120 C60,125 110,120 150,105" fill="none" stroke="#c77f78" stroke-width="4"/>
<path d="M30,190 C70,190 110,180 140,165" fill="none" stroke="#c77f78" stroke-width="4"/>
<path d="M100,150 C150,190 200,205 260,205" fill="none" stroke="#ec9f9b" stroke-width="18" stroke-opacity="0.55"/>
</g>
<line x1="1535.0" y1="1410.0" x2="1380.0" y2="1287.0" stroke="#b8833d" stroke-width="24"/>
</g>
<g transform="translate(1521.3,1369.0) scale(0.14139)">
<g transform="translate(30,43)">
<path d="M520,365 C600,285 850,275 960,420 C1080,560 1150,780 1130,900 C1120,990 1050,1000 960,960 C900,940 800,965 720,930 C620,880 560,800 520,720 C470,670 435,645 428,612 C430,575 480,520 520,365 Z" fill="#cfd0d2"/>
<path d="M830,420 C930,420 1020,520 1070,640 C1130,780 1150,900 1100,950 C1040,990 980,930 930,880 C860,800 800,700 790,600 C780,520 790,450 830,420 Z" fill="#b0b2b5"/>
<path d="M560,560 C640,520 760,560 800,640 C820,720 760,800 700,800 C620,780 560,680 560,560 Z" fill="#bcbdc0"/>
<path d="M640,860 C720,820 860,830 940,900 C900,950 760,960 680,920 Z" fill="#e3e3e6"/>
<circle cx="590.0" cy="345.0" r="66" fill="#dadbdd"/>
<circle cx="590.0" cy="350.0" r="50" fill="#e9a3a3"/>
<circle cx="790.0" cy="350.0" r="72" fill="#dadbdd"/>
<circle cx="790.0" cy="355.0" r="55" fill="#e9a3a3"/>
<ellipse cx="430" cy="790" rx="45" ry="28" fill="#efb4b4"/>
<ellipse cx="830" cy="690" rx="42" ry="32" fill="#ee9fa3"/>
<ellipse cx="1040" cy="830" rx="30" ry="40" fill="#efb4b4"/>
<path d="M545,830 C440,835 345,870 358,930 C372,992 520,1000 640,1005 C780,1010 900,992 955,975 L1050,968" fill="none" stroke="#a16a4c" stroke-width="28" stroke-linecap="round"/>
<path d="M480,985 C600,1000 760,1000 900,975" fill="none" stroke="#e8a89f" stroke-width="12" stroke-opacity="0.8"/>
<ellipse cx="665" cy="495" rx="15" ry="23" fill="#111"/>
<circle cx="432.0" cy="608.0" r="26" fill="#111"/>
</g>
<line x1="110.0" y1="230.0" x2="403.5" y2="1162.0" stroke="#7a7a7a" stroke-width="6.4"/>
<line x1="171.7" y1="230.0" x2="439.7" y2="1162.0" stroke="#7a7a7a" stroke-width="6.4"/>
<line x1="233.5" y1="230.0" x2="475.9" y2="1162.0" stroke="#7a7a7a" stroke-width="6.4"/>
<line x1="295.2" y1="230.0" x2="512.1" y2="1162.0" stroke="#7a7a7a" stroke-width="6.4"/>
<line x1="357.0" y1="230.0" x2="548.4" y2="1162.0" stroke="#7a7a7a" stroke-width="6.4"/>
<line x1="418.7" y1="230.0" x2="584.6" y2="1162.0" stroke="#7a7a7a" stroke-width="6.4"/>
<line x1="480.4" y1="230.0" x2="620.8" y2="1162.0" stroke="#7a7a7a" stroke-width="6.4"/>
<line x1="542.2" y1="230.0" x2="657.0" y2="1162.0" stroke="#7a7a7a" stroke-width="6.4"/>
<line x1="603.9" y1="230.0" x2="693.2" y2="1162.0" stroke="#7a7a7a" stroke-width="6.4"/>
<line x1="665.7" y1="230.0" x2="729.5" y2="1162.0" stroke="#7a7a7a" stroke-width="6.4"/>
<line x1="727.4" y1="230.0" x2="765.7" y2="1162.0" stroke="#7a7a7a" stroke-width="6.4"/>
<line x1="789.1" y1="230.0" x2="801.9" y2="1162.0" stroke="#7a7a7a" stroke-width="6.4"/>
<line x1="850.9" y1="230.0" x2="838.1" y2="1162.0" stroke="#7a7a7a" stroke-width="6.4"/>
<line x1="912.6" y1="230.0" x2="874.3" y2="1162.0" stroke="#7a7a7a" stroke-width="6.4"/>
<line x1="974.3" y1="230.0" x2="910.5" y2="1162.0" stroke="#7a7a7a" stroke-width="6.4"/>
<line x1="1036.1" y1="230.0" x2="946.8" y2="1162.0" stroke="#7a7a7a" stroke-width="6.4"/>
<line x1="1097.8" y1="230.0" x2="983.0" y2="1162.0" stroke="#7a7a7a" stroke-width="6.4"/>
<line x1="1159.6" y1="230.0" x2="1019.2" y2="1162.0" stroke="#7a7a7a" stroke-width="6.4"/>
<line x1="1221.3" y1="230.0" x2="1055.4" y2="1162.0" stroke="#7a7a7a" stroke-width="6.4"/>
<line x1="1283.0" y1="230.0" x2="1091.6" y2="1162.0" stroke="#7a7a7a" stroke-width="6.4"/>
<line x1="1344.8" y1="230.0" x2="1127.9" y2="1162.0" stroke="#7a7a7a" stroke-width="6.4"/>
<line x1="1406.5" y1="230.0" x2="1164.1" y2="1162.0" stroke="#7a7a7a" stroke-width="6.4"/>
<line x1="1468.3" y1="230.0" x2="1200.3" y2="1162.0" stroke="#7a7a7a" stroke-width="6.4"/>
<line x1="1530.0" y1="230.0" x2="1236.5" y2="1162.0" stroke="#7a7a7a" stroke-width="6.4"/>
<line x1="111.0" y1="322.0" x2="1523.0" y2="322.0" stroke="#7a7a7a" stroke-width="6.4"/>
<line x1="137.2" y1="405.0" x2="1496.8" y2="405.0" stroke="#7a7a7a" stroke-width="6.4"/>
<line x1="163.0" y1="487.0" x2="1471.0" y2="487.0" stroke="#7a7a7a" stroke-width="6.4"/>
<line x1="186.0" y1="560.0" x2="1448.0" y2="560.0" stroke="#7a7a7a" stroke-width="6.4"/>
<line x1="207.5" y1="628.0" x2="1426.5" y2="628.0" stroke="#7a7a7a" stroke-width="6.4"/>
<line x1="227.0" y1="690.0" x2="1407.0" y2="690.0" stroke="#7a7a7a" stroke-width="6.4"/>
<line x1="245.9" y1="750.0" x2="1388.1" y2="750.0" stroke="#7a7a7a" stroke-width="6.4"/>
<line x1="263.2" y1="805.0" x2="1370.8" y2="805.0" stroke="#7a7a7a" stroke-width="6.4"/>
<line x1="279.3" y1="856.0" x2="1354.7" y2="856.0" stroke="#7a7a7a" stroke-width="6.4"/>
<line x1="294.8" y1="905.0" x2="1339.2" y2="905.0" stroke="#7a7a7a" stroke-width="6.4"/>
<line x1="309.0" y1="950.0" x2="1325.0" y2="950.0" stroke="#7a7a7a" stroke-width="6.4"/>
<line x1="322.2" y1="992.0" x2="1311.8" y2="992.0" stroke="#7a7a7a" stroke-width="6.4"/>
<line x1="334.2" y1="1030.0" x2="1299.8" y2="1030.0" stroke="#7a7a7a" stroke-width="6.4"/>
<line x1="345.5" y1="1066.0" x2="1288.5" y2="1066.0" stroke="#7a7a7a" stroke-width="6.4"/>
<line x1="356.2" y1="1100.0" x2="1277.8" y2="1100.0" stroke="#7a7a7a" stroke-width="6.4"/>
<line x1="366.3" y1="1132.0" x2="1267.7" y2="1132.0" stroke="#7a7a7a" stroke-width="6.4"/>
<line x1="1279.0" y1="1168.0" x2="876.0" y2="1070.0" stroke="#b8833d" stroke-width="24"/>
<line x1="876.0" y1="1070.0" x2="770.0" y2="1044.0" stroke="#e8e2d6" stroke-width="44"/>
<line x1="770.0" y1="1044.0" x2="700.0" y2="1027.0" stroke="#8a8d90" stroke-width="40"/>
<line x1="706.0" y1="1028.0" x2="672.0" y2="1020.0" stroke="#222" stroke-width="26" stroke-linecap="round"/>
<g transform="translate(1185,1015)">
<path d="M480,105 L480,275 L330,258 C250,262 170,262 110,250 C70,232 40,215 30,190 C10,170 5,140 15,120 C10,95 30,70 60,55 C90,20 150,0 205,5 C260,10 320,60 390,100 Z" fill="#f8d2c6" stroke="#c77f78" stroke-width="4"/>
<path d="M60,55 C100,70 150,75 200,60" fill="none" stroke="#c77f78" stroke-width="4"/>
<path d="M15,120 C60,125 110,120 150,105" fill="none" stroke="#c77f78" stroke-width="4"/>
<path d="M30,190 C70,190 110,180 140,165" fill="none" stroke="#c77f78" stroke-width="4"/>
<path d="M110,250 C140,235 170,215 185,195" fill="none" stroke="#c77f78" stroke-width="4"/>
<path d="M150,110 C220,120 290,170 330,215" fill="none" stroke="#e79c96" stroke-width="10" stroke-opacity="0.7"/>
<path d="M100,165 C150,200 200,215 260,215" fill="none" stroke="#ec9f9b" stroke-width="16" stroke-opacity="0.55"/>
</g>
</g>
<!-- panel_i -->
<text x="1.0" y="1915.5" font-size="35" fill="#111" font-weight="bold" stroke="#111" stroke-width="1.2">i</text>
<line x1="99.6" y1="1964.5" x2="99.6" y2="2426.8" stroke="#222" stroke-width="1.5"/>
<line x1="90.0" y1="2426.8" x2="407.3" y2="2426.8" stroke="#222" stroke-width="1.5"/>
<line x1="90.0" y1="2426.8" x2="99.6" y2="2426.8" stroke="#222" stroke-width="1.5"/>
<text x="78.0" y="2434.3" font-size="21.5" text-anchor="end" fill="#222222">0</text>
<line x1="90.0" y1="2272.7" x2="99.6" y2="2272.7" stroke="#222" stroke-width="1.5"/>
<text x="78.0" y="2280.2" font-size="21.5" text-anchor="end" fill="#222222">10</text>
<line x1="90.0" y1="2118.6" x2="99.6" y2="2118.6" stroke="#222" stroke-width="1.5"/>
<text x="78.0" y="2126.1" font-size="21.5" text-anchor="end" fill="#222222">20</text>
<line x1="90.0" y1="1964.5" x2="99.6" y2="1964.5" stroke="#222" stroke-width="1.5"/>
<text x="78.0" y="1972.0" font-size="21.5" text-anchor="end" fill="#222222">30</text>
<text x="32.0" y="2196.0" font-size="25" text-anchor="middle" fill="#222222" transform="rotate(-90 32.0 2196.0)" textLength="166.0" lengthAdjust="spacingAndGlyphs">No. responses</text>
<text x="181.7" y="2459.0" font-size="25" text-anchor="middle" fill="#222222" textLength="34.0" lengthAdjust="spacingAndGlyphs">WT</text>
<text x="324.3" y="2459.0" font-size="25" text-anchor="middle" fill="#222222" textLength="56.0" lengthAdjust="spacingAndGlyphs">3×Tg</text>
<rect x="125.1" y="2117.6" width="44.4" height="309.2" fill="#cdcdcf" stroke="#1a1a1a" stroke-width="2"/>
<rect x="266.7" y="2376.8" width="45.2" height="50.0" fill="#55a598" stroke="#1a1a1a" stroke-width="2"/>
<line x1="146.9" y1="2109.2" x2="146.9" y2="2123.9" stroke="#1a1a1a" stroke-width="1.5"/>
<line x1="135.1" y1="2109.2" x2="158.7" y2="2109.2" stroke="#1a1a1a" stroke-width="1.5"/>
<line x1="135.1" y1="2123.9" x2="158.7" y2="2123.9" stroke="#1a1a1a" stroke-width="1.5"/>
<line x1="289.2" y1="2367.3" x2="289.2" y2="2384.1" stroke="#1a1a1a" stroke-width="1.5"/>
<line x1="278.0" y1="2367.3" x2="300.4" y2="2367.3" stroke="#1a1a1a" stroke-width="1.5"/>
<line x1="278.0" y1="2384.1" x2="300.4" y2="2384.1" stroke="#1a1a1a" stroke-width="1.5"/>
<text x="147.3" y="2419.4" font-size="24" text-anchor="middle" fill="#fff" font-weight="bold" textLength="32.0" lengthAdjust="spacingAndGlyphs" stroke="#fff" stroke-width="0.8">32</text>
<text x="289.8" y="2359.2" font-size="23" text-anchor="middle" fill="#222222" textLength="27.5" lengthAdjust="spacingAndGlyphs">32</text>
<polyline points="149.8,2022.8 149.8,2007.8 290.8,2007.8 290.8,2022.8" fill="none" stroke="#222" stroke-width="1.5"/>
<text x="221.0" y="1996.2" font-size="20" text-anchor="middle" fill="#222222" textLength="107.0" lengthAdjust="spacingAndGlyphs"><tspan font-style="italic">P</tspan> &lt; 0.0001</text>
<circle cx="207.6" cy="2041.6" r="6.9" fill="#fff" stroke="#1a1a1a" stroke-width="1.5"/>
<circle cx="214.3" cy="2041.6" r="6.9" fill="#fff" stroke="#1a1a1a" stroke-width="1.5"/>
<circle cx="227.6" cy="2041.6" r="6.9" fill="#fff" stroke="#1a1a1a" stroke-width="1.5"/>
<circle cx="214.3" cy="2057.0" r="6.9" fill="#fff" stroke="#1a1a1a" stroke-width="1.5"/>
<circle cx="221.5" cy="2057.0" r="6.9" fill="#fff" stroke="#1a1a1a" stroke-width="1.5"/>
<circle cx="210.6" cy="2087.8" r="6.9" fill="#fff" stroke="#1a1a1a" stroke-width="1.5"/>
<circle cx="219.6" cy="2087.8" r="6.9" fill="#fff" stroke="#1a1a1a" stroke-width="1.5"/>
<circle cx="224.6" cy="2087.8" r="6.9" fill="#fff" stroke="#1a1a1a" stroke-width="1.5"/>
<circle cx="207.6" cy="2103.2" r="6.9" fill="#fff" stroke="#1a1a1a" stroke-width="1.5"/>
<circle cx="214.3" cy="2103.2" r="6.9" fill="#fff" stroke="#1a1a1a" stroke-width="1.5"/>
<circle cx="220.9" cy="2103.2" r="6.9" fill="#fff" stroke="#1a1a1a" stroke-width="1.5"/>
<circle cx="227.6" cy="2103.2" r="6.9" fill="#fff" stroke="#1a1a1a" stroke-width="1.5"/>
<circle cx="210.6" cy="2118.6" r="6.9" fill="#fff" stroke="#1a1a1a" stroke-width="1.5"/>
<circle cx="224.1" cy="2118.6" r="6.9" fill="#fff" stroke="#1a1a1a" stroke-width="1.5"/>
<circle cx="217.6" cy="2118.6" r="6.9" fill="#fff" stroke="#1a1a1a" stroke-width="1.5"/>
<circle cx="201.1" cy="2134.0" r="6.9" fill="#fff" stroke="#1a1a1a" stroke-width="1.5"/>
<circle cx="234.1" cy="2134.0" r="6.9" fill="#fff" stroke="#1a1a1a" stroke-width="1.5"/>
<circle cx="207.6" cy="2134.0" r="6.9" fill="#fff" stroke="#1a1a1a" stroke-width="1.5"/>
<circle cx="227.6" cy="2134.0" r="6.9" fill="#fff" stroke="#1a1a1a" stroke-width="1.5"/>
<circle cx="214.3" cy="2134.0" r="6.9" fill="#fff" stroke="#1a1a1a" stroke-width="1.5"/>
<circle cx="220.9" cy="2134.0" r="6.9" fill="#fff" stroke="#1a1a1a" stroke-width="1.5"/>
<circle cx="217.6" cy="2134.0" r="6.9" fill="#fff" stroke="#1a1a1a" stroke-width="1.5"/>
<circle cx="210.6" cy="2149.4" r="6.9" fill="#fff" stroke="#1a1a1a" stroke-width="1.5"/>
<circle cx="215.6" cy="2149.4" r="6.9" fill="#fff" stroke="#1a1a1a" stroke-width="1.5"/>
<circle cx="223.6" cy="2149.4" r="6.9" fill="#fff" stroke="#1a1a1a" stroke-width="1.5"/>
<circle cx="201.1" cy="2164.8" r="6.9" fill="#fff" stroke="#1a1a1a" stroke-width="1.5"/>
<circle cx="234.1" cy="2164.8" r="6.9" fill="#fff" stroke="#1a1a1a" stroke-width="1.5"/>
<circle cx="207.6" cy="2164.8" r="6.9" fill="#fff" stroke="#1a1a1a" stroke-width="1.5"/>
<circle cx="214.3" cy="2164.8" r="6.9" fill="#fff" stroke="#1a1a1a" stroke-width="1.5"/>
<circle cx="227.6" cy="2164.8" r="6.9" fill="#fff" stroke="#1a1a1a" stroke-width="1.5"/>
<circle cx="220.9" cy="2164.8" r="6.9" fill="#fff" stroke="#1a1a1a" stroke-width="1.5"/>
<circle cx="217.6" cy="2180.2" r="6.9" fill="#fff" stroke="#1a1a1a" stroke-width="1.5"/>
<circle cx="359.6" cy="2257.3" r="6.9" fill="#fff" stroke="#1a1a1a" stroke-width="1.5"/>
<circle cx="359.6" cy="2288.1" r="6.9" fill="#fff" stroke="#1a1a1a" stroke-width="1.5"/>
<circle cx="359.6" cy="2303.5" r="6.9" fill="#fff" stroke="#1a1a1a" stroke-width="1.5"/>
<circle cx="356.1" cy="2318.9" r="6.9" fill="#fff" stroke="#1a1a1a" stroke-width="1.5"/>
<circle cx="361.8" cy="2318.9" r="6.9" fill="#fff" stroke="#1a1a1a" stroke-width="1.5"/>
<circle cx="351.0" cy="2334.3" r="6.9" fill="#fff" stroke="#1a1a1a" stroke-width="1.5"/>
<circle cx="356.1" cy="2334.3" r="6.9" fill="#fff" stroke="#1a1a1a" stroke-width="1.5"/>
<circle cx="368.4" cy="2334.3" r="6.9" fill="#fff" stroke="#1a1a1a" stroke-width="1.5"/>
<circle cx="359.6" cy="2349.8" r="6.9" fill="#fff" stroke="#1a1a1a" stroke-width="1.5"/>
<circle cx="356.3" cy="2365.2" r="6.9" fill="#fff" stroke="#1a1a1a" stroke-width="1.5"/>
<circle cx="361.8" cy="2365.2" r="6.9" fill="#fff" stroke="#1a1a1a" stroke-width="1.5"/>
<circle cx="348.0" cy="2380.6" r="6.9" fill="#fff" stroke="#1a1a1a" stroke-width="1.5"/>
<circle cx="354.1" cy="2380.6" r="6.9" fill="#fff" stroke="#1a1a1a" stroke-width="1.5"/>
<circle cx="359.6" cy="2380.6" r="6.9" fill="#fff" stroke="#1a1a1a" stroke-width="1.5"/>
<circle cx="365.3" cy="2380.6" r="6.9" fill="#fff" stroke="#1a1a1a" stroke-width="1.5"/>
<circle cx="370.4" cy="2380.6" r="6.9" fill="#fff" stroke="#1a1a1a" stroke-width="1.5"/>
<circle cx="351.0" cy="2396.0" r="6.9" fill="#fff" stroke="#1a1a1a" stroke-width="1.5"/>
<circle cx="356.1" cy="2396.0" r="6.9" fill="#fff" stroke="#1a1a1a" stroke-width="1.5"/>
<circle cx="367.6" cy="2396.0" r="6.9" fill="#fff" stroke="#1a1a1a" stroke-width="1.5"/>
<circle cx="362.2" cy="2396.0" r="6.9" fill="#fff" stroke="#1a1a1a" stroke-width="1.5"/>
<circle cx="365.3" cy="2396.0" r="6.9" fill="#fff" stroke="#1a1a1a" stroke-width="1.5"/>
<circle cx="351.0" cy="2411.4" r="6.9" fill="#fff" stroke="#1a1a1a" stroke-width="1.5"/>
<circle cx="354.6" cy="2411.4" r="6.9" fill="#fff" stroke="#1a1a1a" stroke-width="1.5"/>
<circle cx="365.3" cy="2411.4" r="6.9" fill="#fff" stroke="#1a1a1a" stroke-width="1.5"/>
<circle cx="362.2" cy="2411.4" r="6.9" fill="#fff" stroke="#1a1a1a" stroke-width="1.5"/>
<circle cx="343.9" cy="2426.8" r="6.9" fill="#fff" stroke="#1a1a1a" stroke-width="1.5"/>
<circle cx="348.0" cy="2426.8" r="6.9" fill="#fff" stroke="#1a1a1a" stroke-width="1.5"/>
<circle cx="376.6" cy="2426.8" r="6.9" fill="#fff" stroke="#1a1a1a" stroke-width="1.5"/>
<circle cx="356.1" cy="2426.8" r="6.9" fill="#fff" stroke="#1a1a1a" stroke-width="1.5"/>
<circle cx="361.6" cy="2426.8" r="6.9" fill="#fff" stroke="#1a1a1a" stroke-width="1.5"/>
<circle cx="370.4" cy="2426.8" r="6.9" fill="#fff" stroke="#1a1a1a" stroke-width="1.5"/>
<circle cx="365.3" cy="2426.8" r="6.9" fill="#fff" stroke="#1a1a1a" stroke-width="1.5"/>
<!-- panel_j -->
<text x="496.0" y="1915.0" font-size="35" fill="#111" font-weight="bold" stroke="#111" stroke-width="1.2">j</text>
<path d="M791.2,2055.2 L859.8,2119.0 L861.1,2187.6 L823.4,2219.8 L791.2,2189.9 L636.5,2342.3 L590.4,2187.6 L663.6,2060.0 L791.2,2055.2 Z M791.2,2082.9 L689.9,2086.3 L610.7,2187.6 L647.6,2331.2 L791.2,2187.6 L807.2,2203.6 L843.1,2187.6 L841.4,2137.4 L791.2,2082.9 Z" fill="#e1e1e1" fill-rule="evenodd" fill-opacity="1"/>
<polygon points="791.2,2068.9 851.0,2127.8 852.1,2187.6 815.1,2211.5 791.2,2188.7 641.2,2337.6 599.4,2187.6 676.7,2073.1" fill="none" stroke="#d0d0d0" stroke-width="5" stroke-linejoin="round"/>
<polygon points="791.2,2131.2 831.1,2147.7 847.6,2187.6 831.1,2227.5 791.2,2244.0 751.3,2227.5 734.8,2187.6 751.3,2147.7" fill="none" stroke="#8a8a8a" stroke-width="1.5" stroke-dasharray="11.5 6"/>
<polygon points="791.2,2074.8 871.0,2107.8 904.0,2187.6 871.0,2267.4 791.2,2300.4 711.4,2267.4 678.4,2187.6 711.4,2107.8" fill="none" stroke="#8a8a8a" stroke-width="1.5" stroke-dasharray="11.5 6"/>
<polygon points="791.2,2018.4 910.8,2068.0 960.4,2187.6 910.8,2307.2 791.2,2356.8 671.6,2307.2 622.0,2187.6 671.6,2068.0" fill="none" stroke="#8a8a8a" stroke-width="1.5" stroke-dasharray="11.5 6"/>
<polygon points="791.2,1962.0 950.7,2028.1 1016.8,2187.6 950.7,2347.1 791.2,2413.2 631.7,2347.1 565.6,2187.6 631.7,2028.1" fill="none" stroke="#8a8a8a" stroke-width="1.5" stroke-dasharray="11.5 6"/>
<line x1="791.2" y1="2187.6" x2="950.7" y2="2347.1" stroke="#8a8a8a" stroke-width="1.5" stroke-dasharray="11.5 6"/>
<line x1="791.2" y1="2187.6" x2="791.2" y2="2413.2" stroke="#8a8a8a" stroke-width="1.5" stroke-dasharray="11.5 6"/>
<line x1="791.2" y1="2187.6" x2="631.7" y2="2347.1" stroke="#8a8a8a" stroke-width="1.5" stroke-dasharray="11.5 6"/>
<line x1="791.2" y1="2187.6" x2="565.6" y2="2187.6" stroke="#8a8a8a" stroke-width="1.5" stroke-dasharray="11.5 6"/>
<path d="M791.2,2097.8 L849.6,2129.2 L847.1,2187.6 L811.3,2207.7 L791.2,2191.0 L639.7,2339.1 L598.5,2187.6 L699.8,2096.2 L791.2,2097.8 Z M791.2,2127.4 L728.7,2125.1 L654.0,2187.6 L659.9,2318.9 L791.2,2187.6 L792.8,2189.2 L805.6,2187.6 L814.3,2164.5 L791.2,2127.4 Z" fill="#6fada2" fill-rule="evenodd" fill-opacity="0.62"/>
<line x1="791.2" y1="2187.6" x2="791.2" y2="1962.0" stroke="#5ba396" stroke-width="2.4"/>
<line x1="791.2" y1="2187.6" x2="950.7" y2="2028.1" stroke="#5ba396" stroke-width="2.4"/>
<line x1="791.2" y1="2187.6" x2="1016.8" y2="2187.6" stroke="#5ba396" stroke-width="2.4"/>
<line x1="791.2" y1="2187.6" x2="631.7" y2="2028.1" stroke="#5ba396" stroke-width="2.4"/>
<polygon points="791.2,2113.2 831.4,2147.4 825.0,2187.6 801.6,2198.0 791.2,2189.9 649.7,2329.1 625.8,2187.6 713.4,2109.8" fill="none" stroke="#4c9c8f" stroke-width="5.6" stroke-linejoin="miter"/>
<text x="728.8" y="1930.0" font-size="25" fill="#222222" textLength="125.8" lengthAdjust="spacingAndGlyphs"><tspan font-style="italic">P</tspan> &lt; 0.0001</text>
<text x="767.0" y="1955.0" font-size="25" fill="#222222" textLength="48.0" lengthAdjust="spacingAndGlyphs">0.16</text>
<text x="558.8" y="1996.7" font-size="25" fill="#222222" textLength="125.0" lengthAdjust="spacingAndGlyphs"><tspan font-style="italic">P</tspan> &lt; 0.0001</text>
<text x="586.7" y="2027.9" font-size="25" fill="#222222" textLength="38.7" lengthAdjust="spacingAndGlyphs">0.4</text>
<text x="919.2" y="2002.9" font-size="25" fill="#222222" textLength="125.0" lengthAdjust="spacingAndGlyphs"><tspan font-style="italic">P</tspan> = 0.0245</text>
<text x="952.5" y="2027.9" font-size="25" fill="#222222" textLength="52.0" lengthAdjust="spacingAndGlyphs">0.07</text>
<text x="990.0" y="2166.3" font-size="25" fill="#222222" textLength="130.0" lengthAdjust="spacingAndGlyphs"><tspan font-style="italic">P</tspan> = 0.0400</text>
<text x="1023.3" y="2196.7" font-size="25" fill="#222222" textLength="54.0" lengthAdjust="spacingAndGlyphs">0.04</text>
<text x="472.5" y="2166.3" font-size="25" fill="#222222" textLength="129.0" lengthAdjust="spacingAndGlyphs"><tspan font-style="italic">P</tspan> = 0.0400</text>
<text x="522.0" y="2196.7" font-size="25" fill="#222222" textLength="37.6" lengthAdjust="spacingAndGlyphs">0.6</text>
<text x="592.0" y="2367.5" font-size="25" fill="#222222" textLength="33.4" lengthAdjust="spacingAndGlyphs">1.0</text>
<text x="953.8" y="2367.5" font-size="25" fill="#222222" textLength="53.0" lengthAdjust="spacingAndGlyphs">0.02</text>
<text x="755.4" y="2447.5" font-size="25" fill="#222222" textLength="72.0" lengthAdjust="spacingAndGlyphs">0.008</text>
<text x="791.2" y="2488.3" font-size="25" text-anchor="middle" fill="#222222" textLength="104.5" lengthAdjust="spacingAndGlyphs">Force (g)</text>
<text x="805.5" y="2243.5" font-size="25" fill="#222222" textLength="51.0" lengthAdjust="spacingAndGlyphs">25.0</text>
<text x="805.5" y="2297.5" font-size="25" fill="#222222" textLength="53.0" lengthAdjust="spacingAndGlyphs">50.0</text>
<text x="805.5" y="2355.3" font-size="25" fill="#222222" textLength="51.0" lengthAdjust="spacingAndGlyphs">75.0</text>
<text x="805.8" y="2413.3" font-size="25" fill="#222222" textLength="67.5" lengthAdjust="spacingAndGlyphs">100.0</text>
<text x="777.0" y="2314.0" font-size="25" text-anchor="middle" fill="#222222" transform="rotate(-90 777.0 2314.0)" textLength="156.5" lengthAdjust="spacingAndGlyphs">Response (%)</text>
<rect x="882.9" y="2270.8" width="22.9" height="21.7" fill="#d9d9d9"/>
<rect x="882.9" y="2305.8" width="22.9" height="22.1" fill="#4c9c8f"/>
<text x="920.4" y="2289.6" font-size="25" fill="#222222" textLength="87.0" lengthAdjust="spacingAndGlyphs">WT (32)</text>
<text x="920.4" y="2327.1" font-size="25" fill="#222222" textLength="108.0" lengthAdjust="spacingAndGlyphs">3×Tg (32)</text>
<!-- panel_k -->
<text x="1180.0" y="1916.0" font-size="35" fill="#111" font-weight="bold" stroke="#111" stroke-width="1.2">k</text>
<line x1="1313.6" y1="1964.8" x2="1313.6" y2="2433.0" stroke="#222" stroke-width="1.5"/>
<line x1="1304.0" y1="2433.0" x2="1625.7" y2="2433.0" stroke="#222" stroke-width="1.5"/>
<line x1="1304.0" y1="2433.0" x2="1313.6" y2="2433.0" stroke="#222" stroke-width="1.5"/>
<text x="1293.0" y="2440.5" font-size="21.5" text-anchor="end" fill="#222222">0</text>
<line x1="1304.0" y1="2276.9" x2="1313.6" y2="2276.9" stroke="#222" stroke-width="1.5"/>
<text x="1293.0" y="2284.4" font-size="21.5" text-anchor="end" fill="#222222">50</text>
<line x1="1304.0" y1="2120.9" x2="1313.6" y2="2120.9" stroke="#222" stroke-width="1.5"/>
<text x="1293.0" y="2128.4" font-size="21.5" text-anchor="end" fill="#222222">100</text>
<line x1="1304.0" y1="1964.8" x2="1313.6" y2="1964.8" stroke="#222" stroke-width="1.5"/>
<text x="1293.0" y="1972.3" font-size="21.5" text-anchor="end" fill="#222222">150</text>
<text x="1201.0" y="2199.0" font-size="25" text-anchor="middle" fill="#222222" transform="rotate(-90 1201.0 2199.0)" textLength="187.0" lengthAdjust="spacingAndGlyphs">Paw withdrawal</text>
<text x="1233.0" y="2199.0" font-size="25" text-anchor="middle" fill="#222222" transform="rotate(-90 1233.0 2199.0)" textLength="162.0" lengthAdjust="spacingAndGlyphs">frequency (%)</text>
<text x="1396.5" y="2464.0" font-size="25" text-anchor="middle" fill="#222222" textLength="34.0" lengthAdjust="spacingAndGlyphs">WT</text>
<text x="1539.0" y="2464.0" font-size="25" text-anchor="middle" fill="#222222" textLength="56.0" lengthAdjust="spacingAndGlyphs">3×Tg</text>
<rect x="1339.5" y="2188.0" width="44.4" height="245.0" fill="#cdcdcf" stroke="#1a1a1a" stroke-width="2"/>
<rect x="1483.4" y="2333.3" width="44.6" height="99.7" fill="#55a598" stroke="#1a1a1a" stroke-width="2"/>
<line x1="1361.7" y1="2182.2" x2="1361.7" y2="2191.7" stroke="#1a1a1a" stroke-width="1.5"/>
<line x1="1349.7" y1="2182.2" x2="1373.7" y2="2182.2" stroke="#1a1a1a" stroke-width="1.5"/>
<line x1="1349.7" y1="2191.7" x2="1373.7" y2="2191.7" stroke="#1a1a1a" stroke-width="1.5"/>
<line x1="1505.6" y1="2328.1" x2="1505.6" y2="2336.9" stroke="#1a1a1a" stroke-width="1.5"/>
<line x1="1493.6" y1="2328.1" x2="1517.6" y2="2328.1" stroke="#1a1a1a" stroke-width="1.5"/>
<line x1="1493.6" y1="2336.9" x2="1517.6" y2="2336.9" stroke="#1a1a1a" stroke-width="1.5"/>
<text x="1361.7" y="2422.2" font-size="24" text-anchor="middle" fill="#fff" font-weight="bold" textLength="32.0" lengthAdjust="spacingAndGlyphs" stroke="#fff" stroke-width="0.8">32</text>
<text x="1507.0" y="2422.2" font-size="24" text-anchor="middle" fill="#fff" font-weight="bold" textLength="32.0" lengthAdjust="spacingAndGlyphs" stroke="#fff" stroke-width="0.8">32</text>
<polyline points="1360.3,2003.5 1360.3,1989.4 1500.8,1989.4 1500.8,2003.5" fill="none" stroke="#222" stroke-width="1.5"/>
<text x="1430.8" y="1975.8" font-size="25" text-anchor="middle" fill="#222222" textLength="127.0" lengthAdjust="spacingAndGlyphs"><tspan font-style="italic">P</tspan> &lt; 0.0001</text>
<circle cx="1430.3" cy="2120.9" r="6.7" fill="#fff" stroke="#1a1a1a" stroke-width="1.4"/>
<circle cx="1434.3" cy="2120.9" r="6.7" fill="#fff" stroke="#1a1a1a" stroke-width="1.4"/>
<circle cx="1429.8" cy="2152.1" r="6.7" fill="#fff" stroke="#1a1a1a" stroke-width="1.4"/>
<circle cx="1433.3" cy="2152.1" r="6.7" fill="#fff" stroke="#1a1a1a" stroke-width="1.4"/>
<circle cx="1436.3" cy="2152.1" r="6.7" fill="#fff" stroke="#1a1a1a" stroke-width="1.4"/>
<circle cx="1429.8" cy="2167.7" r="6.7" fill="#fff" stroke="#1a1a1a" stroke-width="1.4"/>
<circle cx="1433.3" cy="2167.7" r="6.7" fill="#fff" stroke="#1a1a1a" stroke-width="1.4"/>
<circle cx="1436.3" cy="2167.7" r="6.7" fill="#fff" stroke="#1a1a1a" stroke-width="1.4"/>
<circle cx="1416.3" cy="2183.3" r="6.7" fill="#fff" stroke="#1a1a1a" stroke-width="1.4"/>
<circle cx="1450.3" cy="2183.3" r="6.7" fill="#fff" stroke="#1a1a1a" stroke-width="1.4"/>
<circle cx="1421.3" cy="2183.3" r="6.7" fill="#fff" stroke="#1a1a1a" stroke-width="1.4"/>
<circle cx="1446.3" cy="2183.3" r="6.7" fill="#fff" stroke="#1a1a1a" stroke-width="1.4"/>
<circle cx="1428.3" cy="2183.3" r="6.7" fill="#fff" stroke="#1a1a1a" stroke-width="1.4"/>
<circle cx="1441.3" cy="2183.3" r="6.7" fill="#fff" stroke="#1a1a1a" stroke-width="1.4"/>
<circle cx="1433.3" cy="2183.3" r="6.7" fill="#fff" stroke="#1a1a1a" stroke-width="1.4"/>
<circle cx="1422.3" cy="2198.9" r="6.7" fill="#fff" stroke="#1a1a1a" stroke-width="1.4"/>
<circle cx="1426.3" cy="2198.9" r="6.7" fill="#fff" stroke="#1a1a1a" stroke-width="1.4"/>
<circle cx="1431.3" cy="2198.9" r="6.7" fill="#fff" stroke="#1a1a1a" stroke-width="1.4"/>
<circle cx="1438.3" cy="2198.9" r="6.7" fill="#fff" stroke="#1a1a1a" stroke-width="1.4"/>
<circle cx="1416.3" cy="2214.5" r="6.7" fill="#fff" stroke="#1a1a1a" stroke-width="1.4"/>
<circle cx="1450.3" cy="2214.5" r="6.7" fill="#fff" stroke="#1a1a1a" stroke-width="1.4"/>
<circle cx="1419.3" cy="2214.5" r="6.7" fill="#fff" stroke="#1a1a1a" stroke-width="1.4"/>
<circle cx="1447.3" cy="2214.5" r="6.7" fill="#fff" stroke="#1a1a1a" stroke-width="1.4"/>
<circle cx="1428.3" cy="2214.5" r="6.7" fill="#fff" stroke="#1a1a1a" stroke-width="1.4"/>
<circle cx="1441.3" cy="2214.5" r="6.7" fill="#fff" stroke="#1a1a1a" stroke-width="1.4"/>
<circle cx="1433.3" cy="2214.5" r="6.7" fill="#fff" stroke="#1a1a1a" stroke-width="1.4"/>
<circle cx="1574.4" cy="2292.6" r="6.7" fill="#fff" stroke="#1a1a1a" stroke-width="1.4"/>
<circle cx="1578.4" cy="2292.6" r="6.7" fill="#fff" stroke="#1a1a1a" stroke-width="1.4"/>
<circle cx="1560.4" cy="2308.2" r="6.7" fill="#fff" stroke="#1a1a1a" stroke-width="1.4"/>
<circle cx="1594.4" cy="2308.2" r="6.7" fill="#fff" stroke="#1a1a1a" stroke-width="1.4"/>
<circle cx="1564.4" cy="2308.2" r="6.7" fill="#fff" stroke="#1a1a1a" stroke-width="1.4"/>
<circle cx="1590.4" cy="2308.2" r="6.7" fill="#fff" stroke="#1a1a1a" stroke-width="1.4"/>
<circle cx="1572.4" cy="2308.2" r="6.7" fill="#fff" stroke="#1a1a1a" stroke-width="1.4"/>
<circle cx="1582.4" cy="2308.2" r="6.7" fill="#fff" stroke="#1a1a1a" stroke-width="1.4"/>
<circle cx="1577.4" cy="2308.2" r="6.7" fill="#fff" stroke="#1a1a1a" stroke-width="1.4"/>
<circle cx="1566.4" cy="2323.8" r="6.7" fill="#fff" stroke="#1a1a1a" stroke-width="1.4"/>
<circle cx="1569.4" cy="2323.8" r="6.7" fill="#fff" stroke="#1a1a1a" stroke-width="1.4"/>
<circle cx="1585.4" cy="2323.8" r="6.7" fill="#fff" stroke="#1a1a1a" stroke-width="1.4"/>
<circle cx="1582.4" cy="2323.8" r="6.7" fill="#fff" stroke="#1a1a1a" stroke-width="1.4"/>
<circle cx="1568.4" cy="2339.4" r="6.7" fill="#fff" stroke="#1a1a1a" stroke-width="1.4"/>
<circle cx="1571.4" cy="2339.4" r="6.7" fill="#fff" stroke="#1a1a1a" stroke-width="1.4"/>
<circle cx="1585.4" cy="2339.4" r="6.7" fill="#fff" stroke="#1a1a1a" stroke-width="1.4"/>
<circle cx="1568.4" cy="2355.0" r="6.7" fill="#fff" stroke="#1a1a1a" stroke-width="1.4"/>
<circle cx="1585.4" cy="2355.0" r="6.7" fill="#fff" stroke="#1a1a1a" stroke-width="1.4"/>
<circle cx="1577.4" cy="2355.0" r="6.7" fill="#fff" stroke="#1a1a1a" stroke-width="1.4"/>
<circle cx="1568.4" cy="2370.6" r="6.7" fill="#fff" stroke="#1a1a1a" stroke-width="1.4"/>
<circle cx="1571.4" cy="2370.6" r="6.7" fill="#fff" stroke="#1a1a1a" stroke-width="1.4"/>
<circle cx="1580.4" cy="2370.6" r="6.7" fill="#fff" stroke="#1a1a1a" stroke-width="1.4"/>
<circle cx="1585.4" cy="2370.6" r="6.7" fill="#fff" stroke="#1a1a1a" stroke-width="1.4"/>
<!-- panel_l -->
<text x="1704.0" y="1916.0" font-size="35" fill="#111" font-weight="bold" stroke="#111" stroke-width="1.2">l</text>
<rect x="1791.0" y="1898.5" width="22.4" height="21.4" fill="#55a598"/>
<rect x="1791.0" y="1933.5" width="22.4" height="21.8" fill="#d2d2d3"/>
<text x="1828.9" y="1916.5" font-size="25" fill="#222222" textLength="116.0" lengthAdjust="spacingAndGlyphs">Abnormal</text>
<text x="1828.9" y="1952.0" font-size="25" fill="#222222" textLength="86.0" lengthAdjust="spacingAndGlyphs">Normal</text>
<rect x="1761.3" y="1974.8" width="86.1" height="456.9" fill="#cdcdcf"/>
<rect x="1761.3" y="1974.8" width="86.1" height="16.0" fill="#55a598"/>
<line x1="1761.3" y1="1990.8" x2="1847.4" y2="1990.8" stroke="#1a1a1a" stroke-width="2.4"/>
<rect x="1761.3" y="1974.8" width="86.1" height="456.9" fill="none" stroke="#1a1a1a" stroke-width="1.8"/>
<rect x="1892.1" y="1974.8" width="86.5" height="456.9" fill="#cdcdcf"/>
<rect x="1892.1" y="1974.8" width="86.5" height="313.1" fill="#55a598"/>
<line x1="1892.1" y1="2287.9" x2="1978.6" y2="2287.9" stroke="#1a1a1a" stroke-width="2.4"/>
<rect x="1892.1" y="1974.8" width="86.5" height="456.9" fill="none" stroke="#1a1a1a" stroke-width="1.8"/>
<text x="1806.0" y="2002.0" font-size="24" text-anchor="middle" fill="#fff" font-weight="bold" textLength="60.0" lengthAdjust="spacingAndGlyphs" stroke="#fff" stroke-width="0.8">3.5%</text>
<text x="1938.0" y="2269.0" font-size="24" text-anchor="middle" fill="#fff" font-weight="bold" textLength="79.0" lengthAdjust="spacingAndGlyphs" stroke="#fff" stroke-width="0.8">68.4%</text>
<text x="1806.0" y="2424.0" font-size="24" text-anchor="middle" fill="#fff" font-weight="bold" textLength="31.0" lengthAdjust="spacingAndGlyphs" stroke="#fff" stroke-width="0.8">57</text>
<text x="1939.0" y="2424.0" font-size="24" text-anchor="middle" fill="#fff" font-weight="bold" textLength="31.0" lengthAdjust="spacingAndGlyphs" stroke="#fff" stroke-width="0.8">57</text>
<text x="1804.0" y="2464.0" font-size="25" text-anchor="middle" fill="#222222" textLength="34.0" lengthAdjust="spacingAndGlyphs">WT</text>
<text x="1934.5" y="2464.0" font-size="25" text-anchor="middle" fill="#222222" textLength="56.0" lengthAdjust="spacingAndGlyphs">3×Tg</text>
</svg></body></html>
